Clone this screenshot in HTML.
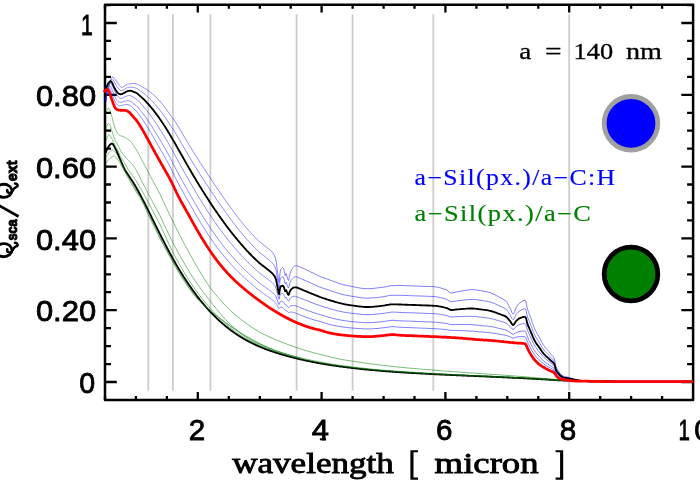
<!DOCTYPE html>
<html><head><meta charset="utf-8"><title>Qsca/Qext</title>
<style>
html,body{margin:0;padding:0;background:#fff;}
body{width:700px;height:500px;overflow:hidden;font-family:"Liberation Serif",serif;}
svg{display:block;will-change:transform;}
text{font-family:"Liberation Serif",serif;}
.tk text{font-family:"Liberation Sans",sans-serif;font-size:29.6px;fill:#000;stroke:#000;stroke-width:0.82px;}
.xl text{font-family:"Liberation Serif",serif;font-size:29.2px;fill:#000;stroke:#000;stroke-width:0.85px;}
.lg text{font-family:"Liberation Serif",serif;font-size:23.5px;stroke:#000;stroke-width:0.3px;}
.lg2{font-family:"Liberation Serif",serif;font-size:22.4px;letter-spacing:1.2px;}
</style></head><body>
<svg width="700" height="500" viewBox="0 0 700 500">
<rect width="700" height="500" fill="#fff"/>
<path d="M148.3,14.2L148.3,390.8M172.9,14.2L172.9,390.8M210.4,14.2L210.4,390.8M296.6,14.2L296.6,390.8M352.6,14.2L352.6,390.8M433.3,14.2L433.3,390.8M569.2,14.2L569.2,390.8" stroke="#cdcdcd" stroke-width="1.8" fill="none"/>
<g fill="none" stroke-linejoin="round" stroke-linecap="butt">
<rect x="105.0" y="4.8" width="588.1" height="395.1" stroke="#000" stroke-width="2.5"/>
<path d="M105.0,399.9L105.0,395.9M105.0,4.8L105.0,8.8M135.9,399.9L135.9,395.9M135.9,4.8L135.9,8.8M166.9,399.9L166.9,395.9M166.9,4.8L166.9,8.8M197.8,399.9L197.8,392.1M197.8,4.8L197.8,12.6M228.8,399.9L228.8,395.9M228.8,4.8L228.8,8.8M259.8,399.9L259.8,395.9M259.8,4.8L259.8,8.8M290.7,399.9L290.7,395.9M290.7,4.8L290.7,8.8M321.6,399.9L321.6,392.1M321.6,4.8L321.6,12.6M352.6,399.9L352.6,395.9M352.6,4.8L352.6,8.8M383.6,399.9L383.6,395.9M383.6,4.8L383.6,8.8M414.5,399.9L414.5,395.9M414.5,4.8L414.5,8.8M445.4,399.9L445.4,392.1M445.4,4.8L445.4,12.6M476.4,399.9L476.4,395.9M476.4,4.8L476.4,8.8M507.3,399.9L507.3,395.9M507.3,4.8L507.3,8.8M538.3,399.9L538.3,395.9M538.3,4.8L538.3,8.8M569.2,399.9L569.2,392.1M569.2,4.8L569.2,12.6M600.2,399.9L600.2,395.9M600.2,4.8L600.2,8.8M631.1,399.9L631.1,395.9M631.1,4.8L631.1,8.8M662.1,399.9L662.1,395.9M662.1,4.8L662.1,8.8M105.0,382.0L116.8,382.0M693.1,382.0L681.3,382.0M105.0,364.1L111.0,364.1M693.1,364.1L687.1,364.1M105.0,346.1L111.0,346.1M693.1,346.1L687.1,346.1M105.0,328.1L111.0,328.1M693.1,328.1L687.1,328.1M105.0,310.2L116.8,310.2M693.1,310.2L681.3,310.2M105.0,292.2L111.0,292.2M693.1,292.2L687.1,292.2M105.0,274.3L111.0,274.3M693.1,274.3L687.1,274.3M105.0,256.4L111.0,256.4M693.1,256.4L687.1,256.4M105.0,238.4L116.8,238.4M693.1,238.4L681.3,238.4M105.0,220.4L111.0,220.4M693.1,220.4L687.1,220.4M105.0,202.5L111.0,202.5M693.1,202.5L687.1,202.5M105.0,184.5L111.0,184.5M693.1,184.5L687.1,184.5M105.0,166.6L116.8,166.6M693.1,166.6L681.3,166.6M105.0,148.7L111.0,148.7M693.1,148.7L687.1,148.7M105.0,130.7L111.0,130.7M693.1,130.7L687.1,130.7M105.0,112.8L111.0,112.8M693.1,112.8L687.1,112.8M105.0,94.8L116.8,94.8M693.1,94.8L681.3,94.8M105.0,76.8L111.0,76.8M693.1,76.8L687.1,76.8M105.0,58.9L111.0,58.9M693.1,58.9L687.1,58.9M105.0,40.9L111.0,40.9M693.1,40.9L687.1,40.9M105.0,23.0L116.8,23.0M693.1,23.0L681.3,23.0M105.0,5.1L111.0,5.1M693.1,5.1L687.1,5.1" stroke="#000" stroke-width="2.3"/>
<path d="M105.6,153.0L106.1,151.6L106.6,150.4L107.1,149.3L107.6,148.3L108.1,147.4L108.6,146.6L109.1,145.9L109.6,145.2L110.1,144.6L110.6,144.2L111.1,143.9L111.6,143.7L112.1,143.7L112.6,143.9L113.1,144.4L113.6,145.2L114.1,146.2L114.6,147.2L115.1,148.2L115.6,149.1L116.1,150.0L116.6,151.0L117.1,152.2L117.6,153.4L118.1,154.5L118.6,155.7L119.1,156.9L119.6,158.1L120.1,159.2L120.6,160.4L121.1,161.5L121.6,162.7L122.1,163.8L122.6,165.0L123.1,166.1L123.6,167.1L124.1,168.2L124.6,169.2L125.1,170.1L125.6,171.0L126.1,171.9L126.6,172.6L127.1,173.4L127.6,174.1L128.1,174.8L128.6,175.5L129.1,176.2L129.6,176.9L130.1,177.7L130.6,178.4L131.1,179.2L131.6,180.0L132.1,180.8L132.6,181.5L133.1,182.3L133.6,183.1L134.1,184.0L134.6,184.8L135.1,185.6L135.6,186.5L136.1,187.3L136.6,188.2L137.1,189.1L137.6,190.0L138.1,190.9L138.6,191.8L139.1,192.7L139.6,193.6L140.1,194.5L140.6,195.5L141.1,196.4L141.6,197.4L142.1,198.3L142.6,199.3L143.1,200.3L143.6,201.3L144.1,202.2L144.6,203.2L145.1,204.2L145.6,205.2L146.1,206.2L146.6,207.2L147.1,208.2L147.6,209.2L148.1,210.2L148.6,211.2L149.1,212.2L149.6,213.2L150.1,214.2L150.6,215.2L151.1,216.2L151.6,217.2L152.1,218.3L152.6,219.3L153.1,220.3L153.6,221.3L154.1,222.3L154.6,223.3L155.1,224.3L155.6,225.3L156.1,226.3L156.6,227.3L157.1,228.3L157.6,229.3L158.1,230.3L158.6,231.3L159.1,232.3L159.6,233.3L160.1,234.3L160.6,235.3L161.1,236.3L161.6,237.3L162.1,238.3L162.6,239.3L163.1,240.2L163.6,241.2L164.1,242.2L164.6,243.1L165.1,244.1L165.6,245.1L166.1,246.0L166.6,247.0L167.1,248.0L167.6,248.9L168.1,249.8L168.6,250.8L169.1,251.7L169.6,252.7L170.1,253.6L170.6,254.5L171.1,255.4L171.6,256.3L172.1,257.2L172.6,258.2L173.1,259.0L173.6,259.9L174.1,260.8L174.6,261.7L175.1,262.6L175.6,263.5L176.1,264.3L176.6,265.2L177.1,266.0L177.6,266.9L178.1,267.7L178.6,268.6L179.1,269.4L179.6,270.3L180.1,271.1L180.6,271.9L181.1,272.7L181.6,273.5L182.1,274.3L182.6,275.1L183.1,275.9L183.6,276.7L184.1,277.5L184.6,278.3L185.1,279.0L185.6,279.8L186.1,280.6L186.6,281.3L187.1,282.1L187.6,282.8L188.1,283.6L188.6,284.3L189.1,285.1L189.6,285.8L190.1,286.5L190.6,287.2L191.1,287.9L191.6,288.6L192.1,289.4L192.6,290.1L193.1,290.7L193.6,291.4L194.1,292.1L194.6,292.8L195.1,293.5L195.6,294.1L196.1,294.8L196.6,295.5L197.1,296.1L197.6,296.8L198.1,297.4L198.6,298.1L199.1,298.7L199.6,299.3L200.1,300.0L200.6,300.6L201.1,301.2L201.6,301.8L202.1,302.4L202.6,303.0L203.1,303.6L203.6,304.2L204.1,304.8L204.6,305.4L205.1,306.0L205.6,306.6L206.1,307.1L206.6,307.7L207.1,308.3L207.6,308.8L208.1,309.4L208.6,309.9L209.1,310.5L209.6,311.0L210.1,311.6L210.6,312.1L211.1,312.6L211.6,313.2L212.1,313.7L212.6,314.2L213.1,314.7L213.6,315.2L214.1,315.7L214.6,316.2L215.1,316.7L215.6,317.2L216.1,317.7L216.6,318.2L217.1,318.6L217.6,319.1L218.1,319.6L218.6,320.1L219.1,320.5L219.6,321.0L220.1,321.4L220.6,321.9L221.1,322.3L221.6,322.8L222.1,323.2L222.6,323.6L223.1,324.1L223.6,324.5L224.1,324.9L224.6,325.3L225.1,325.8L225.6,326.2L226.1,326.6L226.6,327.0L227.1,327.4L227.6,327.8L228.1,328.2L228.6,328.6L229.1,329.0L229.6,329.3L230.1,329.7L230.6,330.1L231.1,330.5L231.6,330.8L232.1,331.2L232.6,331.6L233.1,331.9L233.6,332.3L234.1,332.6L234.6,333.0L235.1,333.3L235.6,333.7L236.1,334.0L236.6,334.3L237.1,334.7L237.6,335.0L238.1,335.3L238.6,335.6L239.1,336.0L239.6,336.3L240.1,336.6L240.6,336.9L241.1,337.2L241.6,337.5L242.1,337.8L242.6,338.1L243.1,338.4L243.6,338.7L244.1,339.0L244.6,339.3L245.1,339.6L245.6,339.8L246.1,340.1L246.6,340.4L247.1,340.7L247.6,340.9L248.1,341.2L248.6,341.5L249.1,341.7L249.6,342.0L250.1,342.2L250.6,342.5L251.1,342.7L251.6,343.0L252.1,343.2L252.6,343.5L253.1,343.7L253.6,344.0L254.1,344.2L254.6,344.4L255.1,344.7L255.6,344.9L256.1,345.1L256.6,345.4L257.1,345.6L257.6,345.8L258.1,346.0L258.6,346.2L259.1,346.5L259.6,346.7L260.1,346.9L260.6,347.1L261.1,347.3L261.6,347.5L262.1,347.7L262.6,347.9L263.1,348.1L263.6,348.3L264.1,348.5L264.6,348.7L265.1,348.9L265.6,349.1L266.1,349.3L266.6,349.5L267.1,349.6L267.6,349.8L268.1,350.0L268.6,350.2L269.1,350.4L269.6,350.5L270.1,350.7L270.6,350.9L271.1,351.1L271.6,351.2L272.1,351.4L272.6,351.6L273.1,351.7L273.6,351.9L274.1,352.1L274.6,352.2L275.1,352.4L275.6,352.6L276.1,352.7L276.6,352.9L277.1,353.0L277.6,353.2L278.1,353.3L278.6,353.5L279.1,353.7L279.6,353.8L280.1,354.0L280.6,354.1L281.1,354.3L281.6,354.4L282.1,354.6L282.6,354.7L283.1,354.8L283.6,355.0L284.1,355.1L284.6,355.3L285.1,355.4L285.6,355.6L286.1,355.7L286.6,355.8L287.1,356.0L287.6,356.1L288.1,356.3L288.6,356.4L289.1,356.5L289.6,356.7L290.1,356.8L290.6,356.9L291.1,357.1L291.6,357.2L292.1,357.3L292.6,357.4L293.1,357.6L293.6,357.7L294.1,357.8L294.6,358.0L295.1,358.1L295.6,358.2L296.1,358.3L296.6,358.4L297.1,358.6L297.6,358.7L298.1,358.8L298.6,358.9L299.1,359.0L299.6,359.2L300.0,359.3L301.0,359.5L302.0,359.7L303.0,359.9L304.0,360.2L305.0,360.4L306.0,360.6L307.0,360.8L308.0,361.0L309.0,361.2L310.0,361.4L311.0,361.6L312.0,361.8L313.0,362.0L314.0,362.2L315.0,362.4L316.0,362.6L317.0,362.8L318.0,363.0L319.0,363.2L320.0,363.3L321.0,363.5L322.0,363.7L323.0,363.9L324.0,364.0L325.0,364.2L326.0,364.4L327.0,364.5L328.0,364.7L329.0,364.8L330.0,365.0L331.0,365.1L332.0,365.3L333.0,365.5L334.0,365.6L335.0,365.7L336.0,365.9L337.0,366.0L338.0,366.2L339.0,366.3L340.0,366.5L341.0,366.6L342.0,366.7L343.0,366.9L344.0,367.0L345.0,367.1L346.0,367.2L347.0,367.4L348.0,367.5L349.0,367.6L350.0,367.7L351.0,367.9L352.0,368.0L353.0,368.1L354.0,368.2L355.0,368.3L356.0,368.4L357.0,368.5L358.0,368.7L359.0,368.8L360.0,368.9L361.0,369.0L362.0,369.1L363.0,369.2L364.0,369.3L365.0,369.4L366.0,369.5L367.0,369.6L368.0,369.7L369.0,369.8L370.0,369.9L371.0,370.0L372.0,370.1L373.0,370.1L374.0,370.2L375.0,370.3L376.0,370.4L377.0,370.5L378.0,370.6L379.0,370.7L380.0,370.8L381.0,370.8L382.0,370.9L383.0,371.0L384.0,371.1L385.0,371.2L386.0,371.2L387.0,371.3L388.0,371.4L389.0,371.5L390.0,371.5L391.0,371.6L392.0,371.7L393.0,371.7L394.0,371.8L395.0,371.9L396.0,372.0L397.0,372.0L398.0,372.1L399.0,372.2L400.0,372.2L401.0,372.3L402.0,372.4L403.0,372.4L404.0,372.5L405.0,372.5L406.0,372.6L407.0,372.7L408.0,372.7L409.0,372.8L410.0,372.9L411.0,372.9L412.0,373.0L413.0,373.0L414.0,373.1L415.0,373.1L416.0,373.2L417.0,373.3L418.0,373.3L419.0,373.4L420.0,373.4L421.0,373.5L422.0,373.5L423.0,373.6L424.0,373.6L425.0,373.7L426.0,373.8L427.0,373.8L428.0,373.9L429.0,373.9L430.0,374.0L431.0,374.0L432.0,374.1L433.0,374.1L434.0,374.2L435.0,374.2L436.0,374.3L437.0,374.3L438.0,374.4L439.0,374.4L440.0,374.5L441.0,374.5L442.0,374.5L443.0,374.6L444.0,374.6L445.0,374.7L446.0,374.7L447.0,374.8L448.0,374.8L449.0,374.9L450.0,374.9L451.0,375.0L452.0,375.0L453.0,375.1L454.0,375.1L455.0,375.1L456.0,375.2L457.0,375.2L458.0,375.3L459.0,375.3L460.0,375.4L461.0,375.4L462.0,375.5L463.0,375.5L464.0,375.5L465.0,375.6L466.0,375.6L467.0,375.7L468.0,375.7L469.0,375.8L470.0,375.8L471.0,375.8L472.0,375.9L473.0,375.9L474.0,376.0L475.0,376.0L476.0,376.1L477.0,376.1L478.0,376.1L479.0,376.2L480.0,376.2L481.0,376.3L482.0,376.3L483.0,376.4L484.0,376.4L485.0,376.4L486.0,376.5L487.0,376.5L488.0,376.6L489.0,376.6L490.0,376.7L491.0,376.7L492.0,376.7L493.0,376.8L494.0,376.8L495.0,376.9L496.0,376.9L497.0,377.0L498.0,377.0L499.0,377.1L500.0,377.1L501.0,377.1L502.0,377.2L503.0,377.2L504.0,377.3L505.0,377.3L506.0,377.4L507.0,377.4L508.0,377.5L509.0,377.5L510.0,377.6L511.0,377.6L512.0,377.7L513.0,377.7L514.0,377.8L515.0,377.8L516.0,377.8L517.0,377.9L518.0,377.9L519.0,378.0L520.0,378.0L521.0,378.1L522.0,378.1L523.0,378.2L524.0,378.2L525.0,378.3L526.0,378.4L527.0,378.4L528.0,378.5L529.0,378.5L530.0,378.6L531.0,378.6L532.0,378.7L533.0,378.7L534.0,378.8L535.0,378.8L536.0,378.9L537.0,379.0L538.0,379.0L539.0,379.1L540.0,379.1L541.0,379.2L542.0,379.2L543.0,379.3L544.0,379.4L545.0,379.4L546.0,379.5L547.0,379.5L548.0,379.6L549.0,379.7L550.0,379.7L551.0,379.8L552.0,379.9L553.0,379.9L554.0,380.0L555.0,380.1L556.0,380.1L557.0,380.2L558.0,380.2L559.0,380.3L560.0,380.3L561.0,380.4L562.0,380.4L563.0,380.5L564.0,380.5L565.0,380.5L566.0,380.6L567.0,380.6L568.0,380.6L569.0,380.7L570.0,380.7L571.0,380.7L572.0,380.8L573.0,380.8L574.0,380.8L575.0,380.8L576.0,380.9L577.0,380.9L578.0,380.9L579.0,381.0L580.0,381.0L581.0,381.0L582.0,381.0L583.0,381.0L584.0,381.1L585.0,381.1L586.0,381.1L587.0,381.1L588.0,381.2L589.0,381.2L590.0,381.2L591.0,381.2L592.0,381.2L593.0,381.3L594.0,381.3L595.0,381.3L596.0,381.3L597.0,381.3L598.0,381.3L599.0,381.4L600.0,381.4L601.0,381.4L602.0,381.4L603.0,381.4L604.0,381.4L605.0,381.4L606.0,381.5L607.0,381.5L608.0,381.5L609.0,381.5L610.0,381.5L611.0,381.5L612.0,381.5L613.0,381.5L614.0,381.5L615.0,381.6L616.0,381.6L617.0,381.6L618.0,381.6L619.0,381.6L620.0,381.6L621.0,381.6L622.0,381.6L623.0,381.6L624.0,381.6L625.0,381.6L626.0,381.6L627.0,381.6L628.0,381.7L629.0,381.7L630.0,381.7L631.0,381.7L632.0,381.7L633.0,381.7L634.0,381.7L635.0,381.7L636.0,381.7L637.0,381.7L638.0,381.7L639.0,381.7L640.0,381.7L641.0,381.7L642.0,381.7L643.0,381.7L644.0,381.7L645.0,381.7L646.0,381.7L647.0,381.7L648.0,381.7L649.0,381.7L650.0,381.7L651.0,381.7L652.0,381.7L653.0,381.7L654.0,381.7L655.0,381.7L656.0,381.7L657.0,381.7L658.0,381.7L659.0,381.7L660.0,381.7L661.0,381.7L662.0,381.7L663.0,381.7L664.0,381.7L665.0,381.7L666.0,381.7L667.0,381.7L668.0,381.7L669.0,381.7L670.0,381.7L671.0,381.7L672.0,381.7L673.0,381.7L674.0,381.7L675.0,381.7L676.0,381.7L677.0,381.7L678.0,381.7L679.0,381.7L680.0,381.7L681.0,381.7L682.0,381.7L683.0,381.7L684.0,381.7L685.0,381.7L686.0,381.7L687.0,381.6L688.0,381.6L689.0,381.6L690.0,381.6L691.0,381.6L692.0,381.6L693.0,381.6" stroke="#000" stroke-width="1.85"/>
<g stroke="#008000" stroke-width="0.65" opacity="0.8">
<path d="M106.2,112.0L106.6,110.8L107.0,109.9L107.4,109.1L107.8,108.5L108.2,108.2L108.6,108.2L109.0,108.5L109.4,109.1L109.8,110.0L110.2,111.1L110.6,112.3L111.0,113.5L111.4,114.9L111.8,116.4L112.2,117.9L112.6,119.5L113.0,121.1L113.4,122.6L113.8,124.1L114.2,125.6L114.6,126.9L115.0,128.2L115.4,129.3L115.8,130.3L116.2,131.2L116.6,131.9L117.0,132.5L117.4,133.0L117.8,133.5L118.2,133.9L118.6,134.4L119.0,134.8L119.4,135.1L119.8,135.4L120.2,135.6L120.6,135.8L121.0,135.9L121.4,136.1L121.8,136.2L122.2,136.3L122.6,136.4L123.0,136.5L123.4,136.7L123.8,136.8L124.2,137.0L124.6,137.2L125.0,137.4L125.4,137.6L125.8,137.9L126.2,138.1L126.6,138.4L127.0,138.6L127.4,138.9L127.8,139.2L128.2,139.5L128.6,139.7L129.0,140.0L129.4,140.3L129.8,140.7L130.2,141.0L130.6,141.4L131.0,141.9L131.4,142.4L131.8,142.9L132.2,143.4L132.6,144.0L133.0,144.6L133.4,145.2L133.8,145.8L134.2,146.4L134.6,147.0L135.0,147.7L135.4,148.3L135.8,148.9L136.2,149.5L136.6,150.2L137.0,150.9L137.4,151.6L137.8,152.3L138.2,153.0L138.6,153.8L139.0,154.5L139.4,155.2L139.8,156.0L140.2,156.7L140.6,157.5L141.0,158.2L141.4,159.0L141.8,159.8L142.2,160.5L142.6,161.3L143.0,162.0L143.4,162.8L143.8,163.6L144.2,164.3L144.6,165.1L145.0,165.8L145.4,166.6L145.8,167.4L146.2,168.1L146.6,168.9L147.0,169.6L147.4,170.4L147.8,171.2L148.2,171.9L148.6,172.7L149.0,173.5L149.4,174.2L149.8,175.0L150.2,175.7L150.6,176.5L151.0,177.3L151.4,178.0L151.8,178.8L152.2,179.5L152.6,180.3L153.0,181.1L154.0,182.9L155.0,184.8L156.0,186.7L157.0,188.5L158.0,190.4L159.0,192.3L160.0,194.1L161.0,196.3L162.0,198.5L163.0,200.6L164.0,202.8L165.0,204.9L166.0,207.0L167.0,209.2L168.0,211.3L169.0,213.3L170.0,215.4L171.0,217.4L172.0,219.5L173.0,221.5L174.0,223.6L175.0,225.6L176.0,227.7L177.0,229.7L178.0,231.7L179.0,233.7L180.0,235.7L181.0,237.6L182.0,239.5L183.0,241.4L184.0,243.3L185.0,245.2L186.0,247.1L187.0,248.9L188.0,250.8L189.0,252.6L190.0,254.4L191.0,256.2L192.0,258.0L193.0,259.8L194.0,261.6L195.0,263.3L196.0,265.1L197.0,266.8L198.0,268.5L199.0,270.2L200.0,271.8L201.0,273.5L202.0,275.1L203.0,276.7L204.0,278.3L205.0,279.9L206.0,281.4L207.0,283.0L208.0,284.5L209.0,286.0L210.0,287.5L211.0,288.8L212.0,290.0L213.0,291.3L214.0,292.5L215.0,293.7L216.0,294.9L217.0,296.1L218.0,297.3L219.0,298.5L220.0,299.6L221.0,300.7L222.0,301.8L223.0,302.9L224.0,304.0L225.0,305.1L226.0,306.1L227.0,307.1L228.0,308.1L229.0,309.1L230.0,310.1L231.0,311.1L232.0,312.0L233.0,312.8L234.0,313.7L235.0,314.6L236.0,315.4L237.0,316.3L238.0,317.1L239.0,317.9L240.0,318.7L241.0,319.5L242.0,320.2L243.0,321.0L244.0,321.8L245.0,322.5L246.0,323.2L247.0,323.9L248.0,324.6L249.0,325.3L250.0,326.0L251.0,326.7L252.0,327.4L253.0,328.0L254.0,328.7L255.0,329.3L256.0,329.9L257.0,330.5L258.0,331.1L259.0,331.7L260.0,332.3L261.0,332.9L262.0,333.4L263.0,333.9L264.0,334.4L265.0,334.8L266.0,335.3L267.0,335.8L268.0,336.3L269.0,336.7L270.0,337.2L271.0,337.6L272.0,338.1L273.0,338.5L274.0,338.9L275.0,339.4L276.0,339.8L277.0,340.2L278.0,340.6L279.0,341.0L280.0,341.4L281.0,341.8L282.0,342.2L283.0,342.6L284.0,343.0L285.0,343.4L286.0,343.8L287.0,344.2L288.0,344.5L289.0,344.9L290.0,345.3L291.0,345.6L292.0,346.0L293.0,346.3L294.0,346.7L295.0,347.1L296.0,347.4L297.0,347.7L298.0,348.1L299.0,348.4L300.0,348.8L304.0,350.0L308.0,351.2L312.0,352.3L316.0,353.4L320.0,354.4L324.0,355.4L328.0,356.4L332.0,357.4L336.0,358.3L340.0,359.2L344.0,359.8L348.0,360.5L352.0,361.1L356.0,361.7L360.0,362.3L364.0,362.9L368.0,363.5L372.0,364.0L376.0,364.5L380.0,365.0L384.0,365.5L388.0,365.9L392.0,366.4L396.0,366.8L400.0,367.2L404.0,367.6L408.0,368.0L412.0,368.3L416.0,368.7L420.0,369.0L424.0,369.4L428.0,369.7L432.0,370.0L436.0,370.3L440.0,370.7L444.0,371.0L448.0,371.3L452.0,371.6L456.0,371.8L460.0,372.1L464.0,372.4L468.0,372.7L472.0,373.0L476.0,373.2L480.0,373.5L484.0,373.8L488.0,374.1L492.0,374.3L496.0,374.6L500.0,374.9L504.0,375.2L508.0,375.5L512.0,375.8L516.0,376.1L520.0,376.4L524.0,376.7L528.0,377.1L532.0,377.4L536.0,377.7L540.0,378.1L544.0,378.4L548.0,378.8L552.0,379.1L556.0,379.5L560.0,379.8L564.0,380.0L568.0,380.2L572.0,380.3L576.0,380.4L580.0,380.5L584.0,380.7L588.0,380.8L592.0,380.9L596.0,380.9L600.0,381.0L604.0,381.1L608.0,381.2L612.0,381.2L616.0,381.3L620.0,381.3L624.0,381.4L628.0,381.4L632.0,381.4L636.0,381.5"/><path d="M106.2,128.8L106.6,127.1L107.0,125.8L107.4,124.8L107.8,123.9L108.2,123.5L108.6,123.4L109.0,123.7L109.4,124.1L109.8,124.8L110.2,125.7L110.6,126.8L111.0,128.0L111.4,129.3L111.8,130.5L112.2,131.8L112.6,133.0L113.0,134.2L113.4,135.4L113.8,136.6L114.2,137.8L114.6,138.8L115.0,139.8L115.4,140.6L115.8,141.4L116.2,142.1L116.6,142.7L117.0,143.4L117.4,144.1L117.8,144.9L118.2,145.7L118.6,146.5L119.0,147.4L119.4,148.2L119.8,149.0L120.2,149.8L120.6,150.5L121.0,151.2L121.4,151.8L121.8,152.4L122.2,153.0L122.6,153.5L123.0,154.1L123.4,154.6L123.8,155.1L124.2,155.6L124.6,156.1L125.0,156.5L125.4,157.0L125.8,157.5L126.2,158.0L126.6,158.4L127.0,158.9L127.4,159.3L127.8,159.8L128.2,160.2L128.6,160.6L129.0,161.0L129.4,161.3L129.8,161.6L130.2,162.0L130.6,162.4L131.0,162.8L131.4,163.3L131.8,163.8L132.2,164.3L132.6,164.8L133.0,165.4L133.4,165.9L133.8,166.5L134.2,167.1L134.6,167.7L135.0,168.2L135.4,168.8L135.8,169.5L136.2,170.1L136.6,170.8L137.0,171.6L137.4,172.3L137.8,173.1L138.2,173.9L138.6,174.7L139.0,175.5L139.4,176.4L139.8,177.2L140.2,178.0L140.6,178.8L141.0,179.6L141.4,180.3L141.8,181.1L142.2,181.9L142.6,182.7L143.0,183.5L143.4,184.3L143.8,185.0L144.2,185.8L144.6,186.6L145.0,187.4L145.4,188.2L145.8,188.9L146.2,189.7L146.6,190.5L147.0,191.2L147.4,192.0L147.8,192.8L148.2,193.5L148.6,194.3L149.0,195.1L149.4,195.8L149.8,196.6L150.2,197.3L150.6,198.1L151.0,198.8L151.4,199.6L151.8,200.4L152.2,201.1L152.6,201.9L153.0,202.6L154.0,204.5L155.0,206.4L156.0,208.2L157.0,210.1L158.0,211.9L159.0,213.8L160.0,215.6L161.0,217.8L162.0,220.0L163.0,222.1L164.0,224.3L165.0,226.4L166.0,228.5L167.0,230.6L168.0,232.7L169.0,234.8L170.0,236.8L171.0,238.9L172.0,240.9L173.0,242.9L174.0,244.8L175.0,246.7L176.0,248.6L177.0,250.4L178.0,252.3L179.0,254.1L180.0,255.9L181.0,257.6L182.0,259.4L183.0,261.1L184.0,262.8L185.0,264.6L186.0,266.3L187.0,267.9L188.0,269.6L189.0,271.2L190.0,272.9L191.0,274.4L192.0,276.0L193.0,277.5L194.0,279.0L195.0,280.5L196.0,282.0L197.0,283.4L198.0,284.9L199.0,286.3L200.0,287.7L201.0,289.1L202.0,290.4L203.0,291.8L204.0,293.1L205.0,294.4L206.0,295.7L207.0,297.0L208.0,298.2L209.0,299.5L210.0,300.7L211.0,302.0L212.0,303.3L213.0,304.6L214.0,305.9L215.0,307.1L216.0,308.4L217.0,309.6L218.0,310.8L219.0,312.0L220.0,313.2L221.0,314.4L222.0,315.5L223.0,316.6L224.0,317.7L225.0,318.9L226.0,319.9L227.0,321.0L228.0,322.1L229.0,323.1L230.0,324.1L231.0,325.1L232.0,326.0L233.0,326.9L234.0,327.8L235.0,328.6L236.0,329.5L237.0,330.4L238.0,331.2L239.0,332.0L240.0,332.8L241.0,333.6L242.0,334.4L243.0,335.2L244.0,335.9L245.0,336.7L246.0,337.3L247.0,337.9L248.0,338.5L249.0,339.0L250.0,339.6L251.0,340.1L252.0,340.7L253.0,341.2L254.0,341.7L255.0,342.2L256.0,342.7L257.0,343.2L258.0,343.7L259.0,344.2L260.0,344.6L261.0,345.1L262.0,345.5L263.0,345.9L264.0,346.3L265.0,346.7L266.0,347.1L267.0,347.5L268.0,347.9L269.0,348.3L270.0,348.6L271.0,349.0L272.0,349.4L273.0,349.7L274.0,350.1L275.0,350.4L276.0,350.7L277.0,351.1L278.0,351.4L279.0,351.7L280.0,352.0L281.0,352.3L282.0,352.7L283.0,353.0L284.0,353.3L285.0,353.6L286.0,353.9L287.0,354.2L288.0,354.4L289.0,354.7L290.0,355.0L291.0,355.3L292.0,355.6L293.0,355.8L294.0,356.1L295.0,356.4L296.0,356.6L297.0,356.9L298.0,357.2L299.0,357.4L300.0,357.7L304.0,358.6L308.0,359.5L312.0,360.4L316.0,361.2L320.0,361.9L324.0,362.7L328.0,363.4L332.0,364.0L336.0,364.7L340.0,365.3L344.0,365.8L348.0,366.3L352.0,366.9L356.0,367.3L360.0,367.8L364.0,368.2L368.0,368.7L372.0,369.1L376.0,369.5L380.0,369.8L384.0,370.2L388.0,370.5L392.0,370.8L396.0,371.1L400.0,371.4L404.0,371.7L408.0,372.0L412.0,372.2L416.0,372.5L420.0,372.7L424.0,372.9L428.0,373.2L432.0,373.4L436.0,373.6L440.0,373.8L444.0,374.0L448.0,374.2L452.0,374.4L456.0,374.6L460.0,374.8L464.0,375.0L468.0,375.2L472.0,375.4L476.0,375.6L480.0,375.7L484.0,375.9L488.0,376.1L492.0,376.3L496.0,376.5L500.0,376.7L504.0,376.9L508.0,377.1L512.0,377.3L516.0,377.6L520.0,377.8L524.0,378.0L528.0,378.2L532.0,378.5L536.0,378.7L540.0,379.0L544.0,379.3L548.0,379.5L552.0,379.8L556.0,380.1L560.0,380.3L564.0,380.5L568.0,380.6L572.0,380.8L576.0,380.9L580.0,381.0L584.0,381.1L588.0,381.2L592.0,381.2L596.0,381.3L600.0,381.4L604.0,381.4L608.0,381.5L612.0,381.5L616.0,381.6L620.0,381.6L624.0,381.6L628.0,381.7L632.0,381.7L636.0,381.7"/><path d="M106.2,140.8L106.6,139.2L107.0,137.8L107.4,136.7L107.8,135.9L108.2,135.2L108.6,134.8L109.0,134.7L109.4,134.9L109.8,135.3L110.2,135.7L110.6,136.3L111.0,137.0L111.4,137.8L111.8,138.6L112.2,139.4L112.6,140.2L113.0,141.0L113.4,141.8L113.8,142.6L114.2,143.4L114.6,144.2L115.0,144.9L115.4,145.7L115.8,146.5L116.2,147.3L116.6,148.0L117.0,148.8L117.4,149.6L117.8,150.4L118.2,151.3L118.6,152.2L119.0,153.1L119.4,154.0L119.8,154.9L120.2,155.7L120.6,156.5L121.0,157.2L121.4,157.9L121.8,158.5L122.2,159.2L122.6,159.8L123.0,160.5L123.4,161.2L123.8,161.8L124.2,162.6L124.6,163.3L125.0,164.0L125.4,164.7L125.8,165.4L126.2,166.1L126.6,166.8L127.0,167.5L127.4,168.1L127.8,168.8L128.2,169.4L128.6,170.0L129.0,170.6L129.4,171.2L129.8,171.7L130.2,172.3L130.6,172.9L131.0,173.5L131.4,174.0L131.8,174.6L132.2,175.1L132.6,175.7L133.0,176.2L133.4,176.8L133.8,177.4L134.2,177.9L134.6,178.5L135.0,179.1L135.4,179.7L135.8,180.3L136.2,181.0L136.6,181.6L137.0,182.3L137.4,182.9L137.8,183.6L138.2,184.3L138.6,185.0L139.0,185.7L139.4,186.4L139.8,187.0L140.2,187.7L140.6,188.4L141.0,189.1L141.4,189.8L141.8,190.6L142.2,191.3L142.6,192.0L143.0,192.7L143.4,193.4L143.8,194.1L144.2,194.8L144.6,195.5L145.0,196.2L145.4,197.0L145.8,197.7L146.2,198.4L146.6,199.2L147.0,199.9L147.4,200.6L147.8,201.4L148.2,202.1L148.6,202.9L149.0,203.6L149.4,204.4L149.8,205.1L150.2,205.9L150.6,206.6L151.0,207.4L151.4,208.2L151.8,208.9L152.2,209.7L152.6,210.5L153.0,211.3L154.0,213.2L155.0,215.1L156.0,217.0L157.0,218.9L158.0,220.8L159.0,222.7L160.0,224.6L161.0,226.8L162.0,229.0L163.0,231.2L164.0,233.4L165.0,235.6L166.0,237.7L167.0,239.9L168.0,242.0L169.0,244.1L170.0,246.2L171.0,248.3L172.0,250.3L173.0,252.4L174.0,254.3L175.0,256.2L176.0,258.1L177.0,259.9L178.0,261.8L179.0,263.6L180.0,265.4L181.0,267.1L182.0,268.9L183.0,270.6L184.0,272.3L185.0,274.0L186.0,275.6L187.0,277.2L188.0,278.8L189.0,280.3L190.0,281.9L191.0,283.3L192.0,284.8L193.0,286.3L194.0,287.7L195.0,289.1L196.0,290.5L197.0,291.9L198.0,293.2L199.0,294.6L200.0,295.9L201.0,297.2L202.0,298.5L203.0,299.7L204.0,301.0L205.0,302.2L206.0,303.4L207.0,304.6L208.0,305.8L209.0,306.9L210.0,308.1L211.0,309.2L212.0,310.3L213.0,311.4L214.0,312.5L215.0,313.6L216.0,314.6L217.0,315.6L218.0,316.7L219.0,317.7L220.0,318.6L221.0,319.6L222.0,320.6L223.0,321.5L224.0,322.4L225.0,323.3L226.0,324.2L227.0,325.1L228.0,326.0L229.0,326.8L230.0,327.6L231.0,328.4L232.0,329.2L233.0,329.9L234.0,330.7L235.0,331.4L236.0,332.1L237.0,332.8L238.0,333.5L239.0,334.2L240.0,334.9L241.0,335.5L242.0,336.1L243.0,336.8L244.0,337.4L245.0,338.0L246.0,338.6L247.0,339.1L248.0,339.7L249.0,340.3L250.0,340.8L251.0,341.3L252.0,341.8L253.0,342.3L254.0,342.8L255.0,343.3L256.0,343.8L257.0,344.3L258.0,344.7L259.0,345.2L260.0,345.6L261.0,346.1L262.0,346.5L263.0,346.9L264.0,347.3L265.0,347.7L266.0,348.1L267.0,348.5L268.0,348.8L269.0,349.2L270.0,349.6L271.0,349.9L272.0,350.3L273.0,350.6L274.0,351.0L275.0,351.3L276.0,351.6L277.0,352.0L278.0,352.3L279.0,352.6L280.0,352.9L281.0,353.2L282.0,353.5L283.0,353.8L284.0,354.1L285.0,354.4L286.0,354.7L287.0,355.0L288.0,355.3L289.0,355.6L290.0,355.9L291.0,356.1L292.0,356.4L293.0,356.7L294.0,356.9L295.0,357.2L296.0,357.5L297.0,357.7L298.0,358.0L299.0,358.2L300.0,358.5L304.0,359.4L308.0,360.3L312.0,361.1L316.0,361.9L320.0,362.7L324.0,363.4L328.0,364.1L332.0,364.7L336.0,365.4L340.0,366.0L344.0,366.5L348.0,367.0L352.0,367.5L356.0,368.0L360.0,368.4L364.0,368.9L368.0,369.3L372.0,369.7L376.0,370.0L380.0,370.4L384.0,370.7L388.0,371.0L392.0,371.4L396.0,371.6L400.0,371.9L404.0,372.2L408.0,372.5L412.0,372.7L416.0,373.0L420.0,373.2L424.0,373.5L428.0,373.7L432.0,374.0L436.0,374.2L440.0,374.4L444.0,374.6L448.0,374.8L452.0,375.0L456.0,375.2L460.0,375.4L464.0,375.5L468.0,375.7L472.0,375.9L476.0,376.1L480.0,376.2L484.0,376.4L488.0,376.6L492.0,376.7L496.0,376.9L500.0,377.1L504.0,377.3L508.0,377.5L512.0,377.7L516.0,377.8L520.0,378.0L524.0,378.2L528.0,378.5L532.0,378.7L536.0,378.9L540.0,379.1L544.0,379.4L548.0,379.6L552.0,379.9L556.0,380.1L560.0,380.3L564.0,380.5L568.0,380.6L572.0,380.8L576.0,380.9L580.0,381.0L584.0,381.1L588.0,381.2L592.0,381.2L596.0,381.3L600.0,381.4L604.0,381.4L608.0,381.5L612.0,381.5L616.0,381.6L620.0,381.6L624.0,381.6L628.0,381.7L632.0,381.7L636.0,381.7"/><path d="M105.6,157.8L106.1,156.9L106.6,156.1L107.1,155.3L107.6,154.6L108.1,153.9L108.6,153.2L109.1,152.5L109.6,152.0L110.1,151.4L110.6,150.9L111.1,150.5L111.6,150.1L112.1,150.0L112.6,150.0L113.1,150.1L113.6,150.4L114.1,150.9L114.6,151.5L115.1,152.1L115.6,152.8L116.1,153.6L116.6,154.3L117.1,155.1L117.6,155.8L118.1,156.7L118.6,157.5L119.1,158.3L119.6,159.2L120.1,160.2L120.6,161.2L121.1,162.3L121.6,163.4L122.1,164.5L122.6,165.6L123.1,166.6L123.6,167.7L124.1,168.7L124.6,169.7L125.1,170.7L125.6,171.6L126.1,172.6L126.6,173.6L127.1,174.5L127.6,175.5L128.1,176.4L128.6,177.3L129.1,178.2L129.6,179.0L130.1,179.9L130.6,180.8L131.1,181.6L131.6,182.5L132.1,183.4L132.6,184.2L133.1,185.1L133.6,185.9L134.1,186.8L134.6,187.6L135.1,188.5L135.6,189.3L136.1,190.2L136.6,191.0L137.1,191.8L137.6,192.6L138.1,193.4L138.6,194.2L139.1,195.0L139.6,195.8L140.1,196.6L140.6,197.4L141.1,198.3L141.6,199.2L142.1,200.1L142.6,201.1L143.1,202.1L143.6,203.1L144.1,204.2L144.6,205.2L145.1,206.3L145.6,207.4L146.1,208.5L146.6,209.6L147.1,210.7L147.6,211.7L148.1,212.8L148.6,213.8L149.1,214.9L149.6,215.9L150.1,217.0L150.6,218.0L151.1,219.1L151.6,220.1L152.1,221.2L152.6,222.2L153.1,223.3L153.6,224.3L154.1,225.4L154.6,226.4L155.1,227.5L155.6,228.5L156.1,229.6L156.6,230.6L157.1,231.6L157.6,232.7L158.1,233.7L158.6,234.7L159.1,235.8L159.6,236.8L160.1,237.8L160.6,238.8L161.1,239.8L161.6,240.7L162.1,241.7L162.6,242.7L163.1,243.6L163.6,244.6L164.1,245.5L164.6,246.5L165.1,247.4L165.6,248.3L166.1,249.3L166.6,250.2L167.1,251.1L167.6,252.0L168.1,252.9L168.6,253.9L169.1,254.8L169.6,255.7L170.1,256.6L170.6,257.5L171.1,258.4L171.6,259.3L172.1,260.2L172.6,261.1L173.1,262.0L173.6,262.9L174.1,263.7L174.6,264.6L175.1,265.5L175.6,266.4L176.1,267.2L176.6,268.1L177.1,269.0L177.6,269.8L178.1,270.6L178.6,271.5L179.1,272.3L179.6,273.1L180.1,274.0L180.6,274.8L181.1,275.6L181.6,276.4L182.1,277.2L182.6,278.0L183.1,278.7L183.6,279.5L184.1,280.3L184.6,281.1L185.1,281.8L185.6,282.6L186.1,283.4L186.6,284.1L187.1,284.8L187.6,285.6L188.1,286.3L188.6,287.0L189.1,287.8L189.6,288.5L190.1,289.2L190.6,289.9L191.1,290.6L191.6,291.2L192.1,291.9L192.6,292.6L193.1,293.2L193.6,293.9L194.1,294.5L194.6,295.1L195.1,295.8L195.6,296.4L196.1,297.0L196.6,297.5L197.1,298.1L197.6,298.7L198.1,299.2L198.6,299.8L199.1,300.3L199.6,300.8L200.1,301.3L200.6,301.8L201.1,302.3L201.6,302.8L202.1,303.2L202.6,303.7L203.1,304.2L203.6,304.7L204.1,305.1L204.6,305.6L205.1,306.0L205.6,306.5L206.1,306.9L206.6,307.4L207.1,307.8L207.6,308.3L208.1,308.7L208.6,309.1L209.1,309.6L209.6,310.0L210.1,310.4L210.6,310.8L211.1,311.2L211.6,311.7L212.1,312.1L212.6,312.5L213.1,312.9L213.6,313.3L214.1,313.7L214.6,314.1L215.1,314.5L215.6,314.9L216.1,315.3L216.6,315.7L217.1,316.1L217.6,316.5L218.1,316.9L218.6,317.2L219.1,317.6L219.6,318.0L220.1,318.4L220.6,318.8L221.1,319.2L221.6,319.6L222.1,320.0L222.6,320.3L223.1,320.7L223.6,321.1L224.1,321.5L224.6,321.9L225.1,322.2L225.6,322.6L226.1,323.0L226.6,323.3L227.1,323.7L227.6,324.1L228.1,324.4L228.6,324.8L229.1,325.2L229.6,325.5L230.1,325.9L230.6,326.2L231.1,326.6L231.6,326.9L232.1,327.3L232.6,327.6L233.1,327.9L233.6,328.3L234.1,328.6L234.6,329.0L235.1,329.3L235.6,329.6L236.1,330.0L236.6,330.3L237.1,330.6L237.6,330.9L238.1,331.3L238.6,331.6L239.1,331.9L239.6,332.2L240.1,332.5L240.6,332.8L241.1,333.2L241.6,333.5L242.1,333.8L242.6,334.1L243.1,334.4L243.6,334.7L244.1,335.0L244.6,335.3L245.1,335.6L245.6,335.9L246.1,336.2L246.6,336.5L247.1,336.8L247.6,337.0L248.1,337.3L248.6,337.6L249.1,337.9L249.6,338.2L250.1,338.5L250.6,338.7L251.1,339.0L251.6,339.3L252.1,339.6L252.6,339.8L253.1,340.1L253.6,340.4L254.1,340.7L254.6,340.9L255.1,341.2L255.6,341.4L256.1,341.7L256.6,342.0L257.1,342.2L257.6,342.5L258.1,342.7L258.6,343.0L259.1,343.2L259.6,343.5L260.1,343.7L260.6,344.0L261.1,344.2L261.6,344.5L262.1,344.7L262.6,345.0L263.1,345.2L263.6,345.4L264.1,345.7L264.6,345.9L265.1,346.1L265.6,346.4L266.1,346.6L266.6,346.8L267.1,347.0L267.6,347.3L268.1,347.5L268.6,347.7L269.1,347.9L269.6,348.1L270.1,348.3L270.6,348.6L271.1,348.8L271.6,349.0L272.1,349.2L272.6,349.4L273.1,349.6L273.6,349.8L274.1,350.0L274.6,350.2L275.1,350.4L275.6,350.6L276.1,350.8L276.6,350.9L277.1,351.1L277.6,351.3L278.1,351.5L278.6,351.7L279.1,351.9L279.6,352.0L280.1,352.2L280.6,352.4L281.1,352.6L281.6,352.7L282.1,352.9L282.6,353.1L283.1,353.3L283.6,353.4L284.1,353.6L284.6,353.8L285.1,353.9L285.6,354.1L286.1,354.2L286.6,354.4L287.1,354.5L287.6,354.7L288.1,354.9L288.6,355.0L289.1,355.2L289.6,355.3L290.1,355.5L290.6,355.6L291.1,355.7L291.6,355.9L292.1,356.0L292.6,356.2L293.1,356.3L293.6,356.5L294.1,356.6L294.6,356.7L295.1,356.9L295.6,357.0L296.1,357.1L296.6,357.2L297.1,357.4L297.6,357.5L298.1,357.6L298.6,357.8L299.1,357.9L299.6,358.0L300.0,358.1"/><path d="M105.6,163.8L106.1,163.0L106.6,162.3L107.1,161.6L107.6,161.0L108.1,160.4L108.6,159.8L109.1,159.3L109.6,158.8L110.1,158.3L110.6,157.9L111.1,157.4L111.6,157.0L112.1,156.6L112.6,156.3L113.1,156.1L113.6,156.0L114.1,156.0L114.6,156.2L115.1,156.5L115.6,156.9L116.1,157.5L116.6,158.1L117.1,158.8L117.6,159.5L118.1,160.1L118.6,160.9L119.1,161.7L119.6,162.5L120.1,163.3L120.6,164.1L121.1,164.9L121.6,165.8L122.1,166.7L122.6,167.6L123.1,168.6L123.6,169.5L124.1,170.4L124.6,171.4L125.1,172.3L125.6,173.3L126.1,174.2L126.6,175.1L127.1,176.0L127.6,177.0L128.1,177.9L128.6,178.8L129.1,179.7L129.6,180.6L130.1,181.4L130.6,182.3L131.1,183.2L131.6,184.0L132.1,184.9L132.6,185.7L133.1,186.6L133.6,187.4L134.1,188.3L134.6,189.1L135.1,190.0L135.6,190.8L136.1,191.7L136.6,192.5L137.1,193.3L137.6,194.1L138.1,195.0L138.6,195.8L139.1,196.6L139.6,197.4L140.1,198.2L140.6,199.0L141.1,199.9L141.6,200.7L142.1,201.6L142.6,202.6L143.1,203.5L143.6,204.5L144.1,205.6L144.6,206.7L145.1,207.8L145.6,208.9L146.1,210.0L146.6,211.1L147.1,212.2L147.6,213.2L148.1,214.3L148.6,215.3L149.1,216.4L149.6,217.4L150.1,218.4L150.6,219.4L151.1,220.5L151.6,221.5L152.1,222.5L152.6,223.6L153.1,224.6L153.6,225.6L154.1,226.6L154.6,227.6L155.1,228.7L155.6,229.7L156.1,230.7L156.6,231.7L157.1,232.7L157.6,233.7L158.1,234.7L158.6,235.7L159.1,236.7L159.6,237.7L160.1,238.6L160.6,239.6L161.1,240.6L161.6,241.5L162.1,242.5L162.6,243.4L163.1,244.4L163.6,245.3L164.1,246.3L164.6,247.2L165.1,248.1L165.6,249.1L166.1,250.0L166.6,250.9L167.1,251.8L167.6,252.7L168.1,253.7L168.6,254.6L169.1,255.5L169.6,256.4L170.1,257.3L170.6,258.2L171.1,259.1L171.6,260.0L172.1,260.9L172.6,261.8L173.1,262.7L173.6,263.6L174.1,264.4L174.6,265.3L175.1,266.2L175.6,267.1L176.1,267.9L176.6,268.8L177.1,269.6L177.6,270.5L178.1,271.3L178.6,272.1L179.1,273.0L179.6,273.8L180.1,274.6L180.6,275.4L181.1,276.2L181.6,277.0L182.1,277.8L182.6,278.6L183.1,279.4L183.6,280.1L184.1,280.9L184.6,281.7L185.1,282.4L185.6,283.2L186.1,283.9L186.6,284.7L187.1,285.4L187.6,286.2L188.1,286.9L188.6,287.6L189.1,288.3L189.6,289.0L190.1,289.7L190.6,290.4L191.1,291.1L191.6,291.8L192.1,292.4L192.6,293.1L193.1,293.7L193.6,294.4L194.1,295.0L194.6,295.6L195.1,296.2L195.6,296.8L196.1,297.4L196.6,298.0L197.1,298.6L197.6,299.1L198.1,299.7L198.6,300.2L199.1,300.7L199.6,301.2L200.1,301.7L200.6,302.2L201.1,302.7L201.6,303.1L202.1,303.6L202.6,304.1L203.1,304.6L203.6,305.0L204.1,305.5L204.6,305.9L205.1,306.4L205.6,306.8L206.1,307.3L206.6,307.7L207.1,308.2L207.6,308.6L208.1,309.0L208.6,309.5L209.1,309.9L209.6,310.3L210.1,310.7L210.6,311.1L211.1,311.6L211.6,312.0L212.1,312.4L212.6,312.8L213.1,313.2L213.6,313.6L214.1,314.0L214.6,314.4L215.1,314.8L215.6,315.2L216.1,315.6L216.6,316.0L217.1,316.3L217.6,316.7L218.1,317.1L218.6,317.5L219.1,317.9L219.6,318.3L220.1,318.7L220.6,319.1L221.1,319.4L221.6,319.8L222.1,320.2L222.6,320.6L223.1,321.0L223.6,321.3L224.1,321.7L224.6,322.1L225.1,322.5L225.6,322.8L226.1,323.2L226.6,323.6L227.1,323.9L227.6,324.3L228.1,324.7L228.6,325.0L229.1,325.4L229.6,325.7L230.1,326.1L230.6,326.4L231.1,326.8L231.6,327.1L232.1,327.5L232.6,327.8L233.1,328.1L233.6,328.5L234.1,328.8L234.6,329.1L235.1,329.5L235.6,329.8L236.1,330.1L236.6,330.5L237.1,330.8L237.6,331.1L238.1,331.4L238.6,331.7L239.1,332.1L239.6,332.4L240.1,332.7L240.6,333.0L241.1,333.3L241.6,333.6L242.1,333.9L242.6,334.2L243.1,334.5L243.6,334.8L244.1,335.1L244.6,335.4L245.1,335.7L245.6,336.0L246.1,336.3L246.6,336.6L247.1,336.9L247.6,337.2L248.1,337.5L248.6,337.7L249.1,338.0L249.6,338.3L250.1,338.6L250.6,338.9L251.1,339.1L251.6,339.4L252.1,339.7L252.6,340.0L253.1,340.2L253.6,340.5L254.1,340.8L254.6,341.0L255.1,341.3L255.6,341.6L256.1,341.8L256.6,342.1L257.1,342.3L257.6,342.6L258.1,342.8L258.6,343.1L259.1,343.4L259.6,343.6L260.1,343.8L260.6,344.1L261.1,344.3L261.6,344.6L262.1,344.8L262.6,345.1L263.1,345.3L263.6,345.5L264.1,345.8L264.6,346.0L265.1,346.2L265.6,346.5L266.1,346.7L266.6,346.9L267.1,347.1L267.6,347.4L268.1,347.6L268.6,347.8L269.1,348.0L269.6,348.2L270.1,348.4L270.6,348.6L271.1,348.8L271.6,349.0L272.1,349.2L272.6,349.4L273.1,349.6L273.6,349.8L274.1,350.0L274.6,350.2L275.1,350.4L275.6,350.6L276.1,350.8L276.6,351.0L277.1,351.2L277.6,351.4L278.1,351.6L278.6,351.7L279.1,351.9L279.6,352.1L280.1,352.3L280.6,352.4L281.1,352.6L281.6,352.8L282.1,353.0L282.6,353.1L283.1,353.3L283.6,353.5L284.1,353.6L284.6,353.8L285.1,354.0L285.6,354.1L286.1,354.3L286.6,354.4L287.1,354.6L287.6,354.7L288.1,354.9L288.6,355.0L289.1,355.2L289.6,355.3L290.1,355.5L290.6,355.6L291.1,355.8L291.6,355.9L292.1,356.1L292.6,356.2L293.1,356.3L293.6,356.5L294.1,356.6L294.6,356.7L295.1,356.9L295.6,357.0L296.1,357.1L296.6,357.3L297.1,357.4L297.6,357.5L298.1,357.6L298.6,357.8L299.1,357.9L299.6,358.0L300.0,358.1"/>
</g>
<g stroke="#0000ff" stroke-width="0.7" opacity="0.7">
<path d="M105.6,102.4L106.0,99.3L106.4,96.5L106.8,94.0L107.2,91.8L107.6,89.8L108.0,88.0L108.4,86.4L108.8,84.9L109.2,83.6L109.6,82.4L110.0,81.2L110.4,80.2L110.8,79.3L111.2,78.5L111.6,77.8L112.0,77.3L112.4,77.2L112.8,77.3L113.2,77.5L113.6,77.8L114.0,78.1L114.4,78.6L114.8,79.0L115.2,79.6L115.6,80.1L116.0,80.7L116.4,81.3L116.8,81.8L117.2,82.4L117.6,83.0L118.0,83.5L118.4,84.0L118.8,84.5L119.2,85.0L119.6,85.5L120.0,86.0L120.4,86.5L120.8,86.9L121.2,87.3L121.6,87.5L122.0,87.4L122.4,87.2L122.8,86.9L123.2,86.7L123.6,86.4L124.0,86.2L124.4,86.0L124.8,85.7L125.2,85.5L125.6,85.3L126.0,85.1L126.4,84.8L126.8,84.6L127.2,84.4L127.6,84.2L128.0,84.1L128.4,84.0L128.8,83.9L129.2,83.9L129.6,83.8L130.0,83.8L130.4,83.7L130.8,83.6L131.2,83.6L131.6,83.6L132.0,83.5L132.4,83.5L132.8,83.5L133.2,83.5L133.6,83.5L134.0,83.6L134.4,83.6L134.8,83.6L135.2,83.6L135.6,83.7L136.0,83.7L136.1,83.8L136.6,83.9L137.1,84.1L137.6,84.3L138.1,84.5L138.6,84.8L139.1,85.1L139.6,85.4L140.1,85.7L140.6,85.9L141.1,86.2L141.6,86.5L142.1,86.7L142.6,87.0L143.1,87.3L143.6,87.6L144.1,87.9L144.6,88.2L145.1,88.5L145.6,88.8L146.1,89.1L146.6,89.4L147.1,89.8L147.6,90.1L148.1,90.5L148.6,90.8L149.1,91.2L149.6,91.6L150.1,92.0L150.6,92.4L151.1,92.8L151.6,93.2L152.1,93.6L152.6,94.0L153.1,94.5L153.6,94.9L154.1,95.4L154.6,95.8L155.1,96.3L155.6,96.8L156.1,97.3L156.6,97.8L157.1,98.3L157.6,98.8L158.1,99.3L158.6,99.9L159.1,100.4L159.6,101.0L160.1,101.5L160.6,102.1L161.1,102.7L161.6,103.3L162.1,103.9L162.6,104.5L163.1,105.1L163.6,105.7L164.1,106.4L164.6,107.0L165.1,107.7L165.6,108.4L166.1,109.0L166.6,109.7L167.1,110.4L167.6,111.1L168.1,111.8L168.6,112.5L169.1,113.2L169.6,113.9L170.1,114.6L170.6,115.3L171.1,115.9L171.6,116.6L172.1,117.3L172.6,118.0L173.1,118.7L173.6,119.4L174.1,120.1L174.6,120.8L175.1,121.5L175.6,122.2L176.1,123.0L176.6,123.8L177.1,124.6L177.6,125.4L178.1,126.2L178.6,127.0L179.1,127.9L179.6,128.7L180.1,129.5L180.6,130.4L181.1,131.2L181.6,132.1L182.1,133.0L182.6,133.8L183.1,134.7L183.6,135.6L184.1,136.4L184.6,137.3L185.1,138.1L185.6,139.0L186.1,139.9L186.6,140.7L187.1,141.6L187.6,142.4L188.1,143.2L188.6,144.1L189.1,144.9L189.6,145.7L190.1,146.5L190.6,147.3L191.1,148.2L191.6,149.0L192.1,149.8L192.6,150.6L193.1,151.4L193.6,152.2L194.1,153.0L194.6,153.8L195.1,154.6L195.6,155.4L196.1,156.2L196.6,156.9L197.1,157.7L197.6,158.5L198.1,159.3L198.6,160.1L199.1,160.9L199.6,161.7L200.1,162.5L200.6,163.2L201.1,164.0L201.6,164.8L202.1,165.6L202.6,166.3L203.1,167.1L203.6,167.9L204.1,168.7L204.6,169.4L205.1,170.2L205.6,171.0L206.1,171.7L206.6,172.5L207.1,173.3L207.6,174.0L208.1,174.8L208.6,175.5L209.1,176.3L209.6,177.0L210.1,177.8L210.6,178.6L211.1,179.3L211.6,180.1L212.1,180.8L212.6,181.6L213.1,182.3L213.6,183.1L214.1,183.8L214.6,184.6L215.1,185.3L215.6,186.0L216.1,186.8L216.6,187.5L217.1,188.3L217.6,189.0L218.1,189.7L218.6,190.5L219.1,191.2L219.6,192.0L220.1,192.7L220.6,193.4L221.1,194.2L221.6,194.9L222.1,195.6L222.6,196.3L223.1,197.1L223.6,197.8L224.1,198.5L224.6,199.2L225.1,200.0L225.6,200.7L226.1,201.4L226.6,202.1L227.1,202.8L227.6,203.5L228.1,204.2L228.6,204.9L229.1,205.6L229.6,206.2L230.1,206.9L230.6,207.6L231.1,208.3L231.6,209.0L232.1,209.7L232.6,210.3L233.1,211.0L233.6,211.7L234.1,212.3L234.6,213.0L235.1,213.7L235.6,214.3L236.1,215.0L236.6,215.6L237.1,216.3L237.6,216.9L238.1,217.6L238.6,218.2L239.1,218.9L239.6,219.5L240.1,220.1L240.6,220.8L241.1,221.4L241.6,222.0L242.1,222.6L242.6,223.3L243.1,223.9L243.6,224.5L244.1,225.1L244.6,225.7L245.1,226.3L245.6,226.9L246.1,227.5L246.6,228.1L247.1,228.6L247.6,229.2L248.1,229.8L248.6,230.4L249.1,230.9L249.6,231.5L250.1,232.1L250.6,232.6L251.1,233.2L251.6,233.7L252.1,234.2L252.6,234.8L253.1,235.3L253.6,235.8L254.1,236.3L254.6,236.9L255.1,237.4L255.6,237.9L256.1,238.4L256.6,238.9L257.1,239.4L257.6,240.0L258.1,240.5L258.6,240.9L259.1,241.4L259.6,241.8L260.1,242.2L260.6,242.6L261.1,243.0L261.6,243.4L262.1,243.7L262.6,244.1L263.1,244.5L263.6,244.9L264.1,245.3L264.6,245.7L265.1,246.0L265.6,246.4L266.1,246.8L266.6,247.2L267.1,247.6L267.6,248.0L268.1,248.4L268.6,248.8L269.1,249.2L269.6,249.6L270.1,250.0L270.6,250.5L271.1,251.0L271.6,251.5L272.1,252.0L272.6,252.6L273.1,253.2L273.6,254.1L274.1,255.0L274.6,255.9L275.1,257.1L275.6,258.8L276.1,261.3L276.6,264.7L277.1,268.6L277.6,272.7L278.1,277.0L278.6,281.1L279.1,282.6L279.6,277.2L280.1,272.6L280.6,269.9L281.1,268.8L281.6,268.3L282.1,268.0L282.6,267.6L283.1,267.8L283.6,268.8L284.1,270.7L284.6,273.0L285.1,275.6L285.6,275.2L286.1,273.5L286.6,275.2L287.1,277.0L287.6,278.7L288.1,280.1L288.6,280.4L289.1,278.0L289.6,275.3L290.1,273.5L290.6,271.8L291.1,270.7L291.6,269.7L292.1,268.9L292.6,268.2L293.1,267.6L293.6,267.0L294.1,266.4L294.6,266.1L295.1,265.8L295.6,265.7L296.1,265.6L296.6,265.7L297.1,265.8L297.6,266.0L298.1,266.2L298.6,266.4L299.1,266.6L299.6,266.8L300.0,267.0L301.0,267.4L302.0,267.8L303.0,268.3L304.0,268.7L305.0,269.2L306.0,269.7L307.0,270.1L308.0,270.6L309.0,271.1L310.0,271.6L311.0,272.1L312.0,272.5L313.0,273.0L314.0,273.5L315.0,274.0L316.0,274.5L317.0,275.0L318.0,275.5L319.0,276.0L320.0,276.5L321.0,276.9L322.0,277.3L323.0,277.6L324.0,278.0L325.0,278.3L326.0,278.6L327.0,279.0L328.0,279.3L329.0,279.7L330.0,280.1L331.0,280.4L332.0,280.8L333.0,281.2L334.0,281.6L335.0,281.9L336.0,282.3L337.0,282.7L338.0,283.0L339.0,283.3L340.0,283.7L341.0,284.0L342.0,284.3L343.0,284.6L344.0,284.8L345.0,285.1L346.0,285.3L347.0,285.5L348.0,285.7L349.0,285.9L350.0,286.1L351.0,286.3L352.0,286.5L353.0,286.7L354.0,286.9L355.0,287.1L356.0,287.3L357.0,287.5L358.0,287.7L359.0,287.9L360.0,288.0L361.0,288.2L362.0,288.3L363.0,288.5L364.0,288.6L365.0,288.6L366.0,288.7L367.0,288.7L368.0,288.7L369.0,288.7L370.0,288.6L371.0,288.6L372.0,288.5L373.0,288.4L374.0,288.3L375.0,288.2L376.0,288.1L377.0,288.0L378.0,287.8L379.0,287.7L380.0,287.6L381.0,287.5L382.0,287.4L383.0,287.2L384.0,287.1L385.0,286.9L386.0,286.7L387.0,286.4L388.0,286.2L389.0,286.0L390.0,285.8L391.0,285.7L392.0,285.6L393.0,285.7L394.0,285.7L395.0,285.6L396.0,285.5L397.0,285.5L398.0,285.5L399.0,285.5L400.0,285.5L401.0,285.5L402.0,285.5L403.0,285.6L404.0,285.6L405.0,285.6L406.0,285.7L407.0,285.7L408.0,285.8L409.0,285.8L410.0,285.8L411.0,285.9L412.0,285.9L413.0,285.9L414.0,286.0L415.0,286.0L416.0,286.0L417.0,286.1L418.0,286.1L419.0,286.1L420.0,286.2L421.0,286.2L422.0,286.3L423.0,286.3L424.0,286.3L425.0,286.4L426.0,286.4L427.0,286.4L428.0,286.5L429.0,286.5L430.0,286.5L431.0,286.6L432.0,286.6L433.0,286.6L434.0,286.7L435.0,286.8L436.0,287.0L437.0,287.1L438.0,287.3L439.0,287.6L440.0,287.8L441.0,288.1L442.0,288.4L443.0,288.7L444.0,289.0L445.0,289.3L446.0,289.6L447.0,290.2L448.0,291.0L449.0,291.9L450.0,292.6L451.0,293.0L452.0,293.0L453.0,292.8L454.0,292.6L455.0,292.3L456.0,292.0L457.0,291.9L458.0,291.7L459.0,291.5L460.0,291.4L461.0,291.2L462.0,291.0L463.0,290.8L464.0,290.6L465.0,290.5L466.0,290.3L467.0,290.1L468.0,290.0L469.0,289.9L470.0,289.8L471.0,289.7L472.0,289.7L473.0,289.7L474.0,289.7L475.0,289.8L476.0,289.9L477.0,290.0L478.0,290.2L479.0,290.4L480.0,290.5L481.0,290.7L482.0,290.9L483.0,291.0L484.0,291.2L485.0,291.4L486.0,291.6L487.0,291.8L488.0,292.0L489.0,292.3L490.0,292.6L491.0,292.9L492.0,293.3L493.0,293.8L494.0,294.3L495.0,294.8L496.0,295.3L497.0,295.9L498.0,296.4L499.0,297.0L500.0,297.5L501.0,298.0L502.0,298.5L503.0,299.1L504.0,299.7L505.0,300.3L506.0,301.1L507.0,302.4L508.0,304.1L509.0,306.0L510.0,307.7L511.0,310.2L512.0,312.8L513.0,314.1L514.0,313.1L515.0,310.5L516.0,307.8L517.0,306.2L518.0,304.7L519.0,303.6L520.0,302.8L521.0,302.1L522.0,301.4L523.0,300.8L524.0,300.4L525.0,300.1L526.0,301.6L527.0,307.3L528.0,310.7L529.0,313.2L530.0,315.8L531.0,318.6L532.0,321.5L533.0,324.4L534.0,327.1L535.0,329.6L536.0,331.6L537.0,333.3L538.0,334.9L539.0,336.5L540.0,338.4L541.0,340.4L542.0,342.4L543.0,344.2L544.0,345.8L545.0,347.1L546.0,348.3L547.0,349.5L548.0,350.6L549.0,351.7L550.0,353.0L551.0,354.2L552.0,355.5L553.0,356.6L554.0,358.0L555.0,361.2L556.0,366.8L557.0,368.6L558.0,370.2L559.0,371.8L560.0,373.3L561.0,374.4L562.0,375.3L563.0,376.0L564.0,376.4L565.0,376.6L566.0,376.8L567.0,377.0L568.0,377.2L569.0,377.4L570.0,377.7L571.0,378.0L572.0,378.2L573.0,378.5L574.0,378.8L575.0,379.1L576.0,379.4L577.0,379.7L578.0,379.9L579.0,380.2L580.0,380.4L581.0,380.6L582.0,380.7L583.0,380.8L584.0,380.9L585.0,381.0L586.0,381.1L587.0,381.2L588.0,381.2L589.0,381.2L590.0,381.2L591.0,381.3L592.0,381.3L593.0,381.3L594.0,381.3L595.0,381.3L596.0,381.4L597.0,381.4L598.0,381.4L599.0,381.4L600.0,381.4L601.0,381.4L602.0,381.5L603.0,381.5L604.0,381.5L605.0,381.5L606.0,381.5L607.0,381.5L608.0,381.5L609.0,381.5L610.0,381.6L611.0,381.6L612.0,381.6L613.0,381.6L614.0,381.6L615.0,381.6L616.0,381.6L617.0,381.6L618.0,381.6L619.0,381.6L620.0,381.6L621.0,381.6L622.0,381.6L623.0,381.6L624.0,381.6L625.0,381.6L626.0,381.6L627.0,381.6L628.0,381.6L629.0,381.6L630.0,381.6L631.0,381.6L632.0,381.6L633.0,381.6L634.0,381.6L635.0,381.6L636.0,381.6L637.0,381.6L638.0,381.6L639.0,381.6L640.0,381.6L641.0,381.6L642.0,381.6L643.0,381.6L644.0,381.6L645.0,381.6L646.0,381.6L647.0,381.6L648.0,381.6L649.0,381.6L650.0,381.7L651.0,381.7L652.0,381.7L653.0,381.7L654.0,381.7L655.0,381.7L656.0,381.7L657.0,381.7L658.0,381.7L659.0,381.7L660.0,381.7L661.0,381.7L662.0,381.7L663.0,381.7L664.0,381.7L665.0,381.7L666.0,381.7L667.0,381.7L668.0,381.7L669.0,381.7L670.0,381.7L671.0,381.7L672.0,381.7L673.0,381.7L674.0,381.7L675.0,381.7L676.0,381.7L677.0,381.7L678.0,381.7L679.0,381.7L680.0,381.7L681.0,381.7L682.0,381.6L683.0,381.6L684.0,381.6L685.0,381.6L686.0,381.6L687.0,381.6L688.0,381.6L689.0,381.6L690.0,381.6L691.0,381.6L692.0,381.6L693.0,381.6"/><path d="M105.6,102.4L106.0,99.4L106.4,96.7L106.8,94.4L107.2,92.4L107.6,90.6L108.0,88.9L108.4,87.4L108.8,85.9L109.2,84.5L109.6,83.3L110.0,82.1L110.4,81.0L110.8,80.0L111.2,79.4L111.6,79.2L112.0,79.3L112.4,79.6L112.8,79.9L113.2,80.4L113.6,80.9L114.0,81.5L114.4,82.1L114.8,82.8L115.2,83.5L115.6,84.2L116.0,84.9L116.4,85.6L116.8,86.2L117.2,86.8L117.6,87.3L118.0,87.9L118.4,88.4L118.8,88.9L119.2,89.3L119.6,89.7L120.0,90.1L120.4,90.3L120.8,90.5L121.2,90.6L121.6,90.6L122.0,90.5L122.4,90.4L122.8,90.2L123.2,90.0L123.6,89.8L124.0,89.6L124.4,89.4L124.8,89.2L125.2,88.9L125.6,88.7L126.0,88.4L126.4,88.2L126.8,88.0L127.2,87.8L127.6,87.6L128.0,87.5L128.4,87.4L128.8,87.3L129.2,87.2L129.6,87.2L130.0,87.1L130.4,87.1L130.8,87.1L131.2,87.1L131.6,87.2L132.0,87.2L132.4,87.3L132.8,87.3L133.2,87.4L133.6,87.5L134.0,87.6L134.4,87.7L134.8,87.8L135.2,87.9L135.6,88.0L136.1,88.2L136.6,88.4L137.1,88.6L137.6,88.9L138.1,89.3L138.6,89.6L139.1,90.0L139.6,90.4L140.1,90.8L140.6,91.1L141.1,91.5L141.6,91.8L142.1,92.2L142.6,92.6L143.1,93.0L143.6,93.3L144.1,93.7L144.6,94.1L145.1,94.5L145.6,95.0L146.1,95.4L146.6,95.8L147.1,96.3L147.6,96.7L148.1,97.2L148.6,97.6L149.1,98.1L149.6,98.6L150.1,99.1L150.6,99.6L151.1,100.1L151.6,100.6L152.1,101.1L152.6,101.6L153.1,102.1L153.6,102.7L154.1,103.2L154.6,103.8L155.1,104.3L155.6,104.9L156.1,105.5L156.6,106.1L157.1,106.7L157.6,107.3L158.1,107.9L158.6,108.5L159.1,109.1L159.6,109.8L160.1,110.4L160.6,111.1L161.1,111.7L161.6,112.4L162.1,113.1L162.6,113.7L163.1,114.4L163.6,115.1L164.1,115.8L164.6,116.5L165.1,117.3L165.6,118.0L166.1,118.7L166.6,119.5L167.1,120.2L167.6,121.0L168.1,121.7L168.6,122.5L169.1,123.3L169.6,124.0L170.1,124.8L170.6,125.5L171.1,126.3L171.6,127.1L172.1,127.9L172.6,128.6L173.1,129.4L173.6,130.2L174.1,130.9L174.6,131.7L175.1,132.5L175.6,133.3L176.1,134.2L176.6,135.0L177.1,135.8L177.6,136.7L178.1,137.5L178.6,138.4L179.1,139.2L179.6,140.1L180.1,140.9L180.6,141.8L181.1,142.7L181.6,143.5L182.1,144.4L182.6,145.3L183.1,146.1L183.6,147.0L184.1,147.9L184.6,148.7L185.1,149.6L185.6,150.5L186.1,151.3L186.6,152.2L187.1,153.0L187.6,153.9L188.1,154.7L188.6,155.6L189.1,156.4L189.6,157.3L190.1,158.1L190.6,158.9L191.1,159.8L191.6,160.6L192.1,161.4L192.6,162.2L193.1,163.1L193.6,163.9L194.1,164.7L194.6,165.5L195.1,166.3L195.6,167.1L196.1,167.9L196.6,168.7L197.1,169.5L197.6,170.3L198.1,171.1L198.6,171.9L199.1,172.7L199.6,173.5L200.1,174.3L200.6,175.1L201.1,175.9L201.6,176.7L202.1,177.5L202.6,178.3L203.1,179.0L203.6,179.8L204.1,180.6L204.6,181.4L205.1,182.1L205.6,182.9L206.1,183.7L206.6,184.5L207.1,185.2L207.6,186.0L208.1,186.7L208.6,187.5L209.1,188.3L209.6,189.0L210.1,189.8L210.6,190.5L211.1,191.3L211.6,192.0L212.1,192.8L212.6,193.5L213.1,194.3L213.6,195.0L214.1,195.7L214.6,196.5L215.1,197.2L215.6,198.0L216.1,198.7L216.6,199.4L217.1,200.1L217.6,200.9L218.1,201.6L218.6,202.3L219.1,203.0L219.6,203.8L220.1,204.5L220.6,205.2L221.1,205.9L221.6,206.6L222.1,207.3L222.6,208.0L223.1,208.7L223.6,209.4L224.1,210.1L224.6,210.8L225.1,211.5L225.6,212.2L226.1,212.9L226.6,213.6L227.1,214.3L227.6,215.0L228.1,215.7L228.6,216.4L229.1,217.1L229.6,217.7L230.1,218.4L230.6,219.1L231.1,219.7L231.6,220.4L232.1,221.1L232.6,221.7L233.1,222.4L233.6,223.1L234.1,223.7L234.6,224.4L235.1,225.0L235.6,225.7L236.1,226.3L236.6,226.9L237.1,227.6L237.6,228.2L238.1,228.8L238.6,229.5L239.1,230.1L239.6,230.7L240.1,231.3L240.6,231.9L241.1,232.5L241.6,233.1L242.1,233.8L242.6,234.4L243.1,234.9L243.6,235.5L244.1,236.1L244.6,236.7L245.1,237.3L245.6,237.9L246.1,238.5L246.6,239.0L247.1,239.6L247.6,240.2L248.1,240.7L248.6,241.3L249.1,241.8L249.6,242.4L250.1,242.9L250.6,243.4L251.1,244.0L251.6,244.5L252.1,245.0L252.6,245.6L253.1,246.1L253.6,246.6L254.1,247.1L254.6,247.6L255.1,248.1L255.6,248.6L256.1,249.1L256.6,249.6L257.1,250.1L257.6,250.6L258.1,251.1L258.6,251.6L259.1,252.1L259.6,252.5L260.1,252.9L260.6,253.3L261.1,253.7L261.6,254.1L262.1,254.5L262.6,254.9L263.1,255.3L263.6,255.6L264.1,256.0L264.6,256.4L265.1,256.8L265.6,257.2L266.1,257.6L266.6,258.0L267.1,258.4L267.6,258.8L268.1,259.2L268.6,259.6L269.1,260.0L269.6,260.4L270.1,260.8L270.6,261.3L271.1,261.7L271.6,262.2L272.1,262.7L272.6,263.2L273.1,263.9L273.6,264.6L274.1,265.4L274.6,266.3L275.1,267.3L275.6,268.7L276.1,270.8L276.6,273.6L277.1,276.9L277.6,280.3L278.1,283.8L278.6,287.2L279.1,288.5L279.6,284.2L280.1,280.5L280.6,278.4L281.1,277.6L281.6,277.2L282.1,277.0L282.6,276.8L283.1,277.0L283.6,277.9L284.1,279.5L284.6,281.4L285.1,283.6L285.6,283.3L286.1,282.0L286.6,283.4L287.1,284.9L287.6,286.4L288.1,287.6L288.6,287.8L289.1,286.0L289.6,283.9L290.1,282.5L290.6,281.2L291.1,280.3L291.6,279.6L292.1,279.0L292.6,278.5L293.1,278.1L293.6,277.6L294.1,277.3L294.6,277.0L295.1,276.9L295.6,276.8L296.1,276.8L296.6,276.9L297.1,277.1L297.6,277.3L298.1,277.5L298.6,277.7L299.1,277.9L299.6,278.1L300.0,278.2L301.0,278.7L302.0,279.1L303.0,279.5L304.0,280.0L305.0,280.4L306.0,280.8L307.0,281.3L308.0,281.7L309.0,282.2L310.0,282.6L311.0,283.1L312.0,283.5L313.0,284.0L314.0,284.4L315.0,284.9L316.0,285.3L317.0,285.8L318.0,286.2L319.0,286.7L320.0,287.1L321.0,287.5L322.0,287.8L323.0,288.2L324.0,288.5L325.0,288.8L326.0,289.2L327.0,289.5L328.0,289.8L329.0,290.2L330.0,290.5L331.0,290.8L332.0,291.2L333.0,291.5L334.0,291.9L335.0,292.2L336.0,292.5L337.0,292.8L338.0,293.2L339.0,293.5L340.0,293.8L341.0,294.0L342.0,294.3L343.0,294.6L344.0,294.8L345.0,295.0L346.0,295.2L347.0,295.4L348.0,295.6L349.0,295.8L350.0,295.9L351.0,296.1L352.0,296.3L353.0,296.4L354.0,296.6L355.0,296.8L356.0,296.9L357.0,297.1L358.0,297.3L359.0,297.4L360.0,297.6L361.0,297.7L362.0,297.8L363.0,297.9L364.0,298.0L365.0,298.1L366.0,298.1L367.0,298.2L368.0,298.2L369.0,298.1L370.0,298.1L371.0,298.0L372.0,298.0L373.0,297.9L374.0,297.8L375.0,297.7L376.0,297.6L377.0,297.5L378.0,297.4L379.0,297.2L380.0,297.1L381.0,297.0L382.0,296.9L383.0,296.8L384.0,296.6L385.0,296.4L386.0,296.2L387.0,296.0L388.0,295.8L389.0,295.6L390.0,295.5L391.0,295.3L392.0,295.3L393.0,295.3L394.0,295.3L395.0,295.3L396.0,295.3L397.0,295.3L398.0,295.3L399.0,295.3L400.0,295.3L401.0,295.3L402.0,295.4L403.0,295.4L404.0,295.4L405.0,295.5L406.0,295.5L407.0,295.5L408.0,295.6L409.0,295.6L410.0,295.7L411.0,295.7L412.0,295.7L413.0,295.8L414.0,295.8L415.0,295.8L416.0,295.9L417.0,295.9L418.0,295.9L419.0,296.0L420.0,296.0L421.0,296.0L422.0,296.1L423.0,296.1L424.0,296.1L425.0,296.2L426.0,296.2L427.0,296.3L428.0,296.3L429.0,296.3L430.0,296.4L431.0,296.4L432.0,296.4L433.0,296.5L434.0,296.5L435.0,296.6L436.0,296.8L437.0,296.9L438.0,297.1L439.0,297.3L440.0,297.5L441.0,297.7L442.0,298.0L443.0,298.2L444.0,298.5L445.0,298.7L446.0,299.0L447.0,299.5L448.0,300.2L449.0,300.9L450.0,301.4L451.0,301.8L452.0,301.8L453.0,301.6L454.0,301.4L455.0,301.2L456.0,301.1L457.0,300.9L458.0,300.8L459.0,300.7L460.0,300.6L461.0,300.4L462.0,300.3L463.0,300.2L464.0,300.0L465.0,299.9L466.0,299.8L467.0,299.7L468.0,299.6L469.0,299.5L470.0,299.4L471.0,299.4L472.0,299.4L473.0,299.4L474.0,299.4L475.0,299.5L476.0,299.6L477.0,299.8L478.0,299.9L479.0,300.1L480.0,300.2L481.0,300.4L482.0,300.5L483.0,300.7L484.0,300.8L485.0,301.0L486.0,301.1L487.0,301.3L488.0,301.5L489.0,301.7L490.0,302.0L491.0,302.3L492.0,302.6L493.0,303.0L494.0,303.4L495.0,303.8L496.0,304.3L497.0,304.8L498.0,305.2L499.0,305.7L500.0,306.1L501.0,306.6L502.0,307.0L503.0,307.4L504.0,307.9L505.0,308.5L506.0,309.1L507.0,310.2L508.0,311.6L509.0,313.1L510.0,314.6L511.0,316.5L512.0,318.6L513.0,319.7L514.0,318.9L515.0,316.8L516.0,314.7L517.0,313.4L518.0,312.2L519.0,311.3L520.0,310.7L521.0,310.2L522.0,309.6L523.0,309.2L524.0,308.9L525.0,308.7L526.0,310.1L527.0,315.1L528.0,318.3L529.0,320.7L530.0,323.1L531.0,325.7L532.0,328.3L533.0,330.9L534.0,333.4L535.0,335.6L536.0,337.4L537.0,339.0L538.0,340.5L539.0,342.0L540.0,343.6L541.0,345.4L542.0,347.1L543.0,348.7L544.0,350.1L545.0,351.2L546.0,352.3L547.0,353.3L548.0,354.3L549.0,355.4L550.0,356.5L551.0,357.5L552.0,358.6L553.0,359.6L554.0,360.8L555.0,363.7L556.0,368.4L557.0,370.2L558.0,371.6L559.0,373.0L560.0,374.3L561.0,375.3L562.0,376.1L563.0,376.7L564.0,377.0L565.0,377.2L566.0,377.4L567.0,377.6L568.0,377.8L569.0,378.0L570.0,378.3L571.0,378.5L572.0,378.7L573.0,379.0L574.0,379.2L575.0,379.5L576.0,379.7L577.0,379.9L578.0,380.2L579.0,380.4L580.0,380.5L581.0,380.7L582.0,380.8L583.0,380.9L584.0,381.0L585.0,381.1L586.0,381.1L587.0,381.2L588.0,381.2L589.0,381.2L590.0,381.2L591.0,381.3L592.0,381.3L593.0,381.3L594.0,381.3L595.0,381.3L596.0,381.4L597.0,381.4L598.0,381.4L599.0,381.4L600.0,381.4L601.0,381.4L602.0,381.5L603.0,381.5L604.0,381.5L605.0,381.5L606.0,381.5L607.0,381.5L608.0,381.5L609.0,381.5L610.0,381.6L611.0,381.6L612.0,381.6L613.0,381.6L614.0,381.6L615.0,381.6L616.0,381.6L617.0,381.6L618.0,381.6L619.0,381.6L620.0,381.6L621.0,381.6L622.0,381.6L623.0,381.6L624.0,381.6L625.0,381.6L626.0,381.6L627.0,381.6L628.0,381.6L629.0,381.6L630.0,381.6L631.0,381.6L632.0,381.6L633.0,381.6L634.0,381.6L635.0,381.6L636.0,381.6L637.0,381.6L638.0,381.6L639.0,381.6L640.0,381.6L641.0,381.6L642.0,381.6L643.0,381.6L644.0,381.6L645.0,381.6L646.0,381.6L647.0,381.7L648.0,381.7L649.0,381.7L650.0,381.7L651.0,381.7L652.0,381.7L653.0,381.7L654.0,381.7L655.0,381.7L656.0,381.7L657.0,381.7L658.0,381.7L659.0,381.7L660.0,381.7L661.0,381.7L662.0,381.7L663.0,381.7L664.0,381.7L665.0,381.7L666.0,381.7L667.0,381.7L668.0,381.7L669.0,381.7L670.0,381.7L671.0,381.7L672.0,381.7L673.0,381.7L674.0,381.7L675.0,381.7L676.0,381.7L677.0,381.7L678.0,381.7L679.0,381.7L680.0,381.7L681.0,381.7L682.0,381.6L683.0,381.6L684.0,381.6L685.0,381.6L686.0,381.6L687.0,381.6L688.0,381.6L689.0,381.6L690.0,381.6L691.0,381.6L692.0,381.6L693.0,381.6"/><path d="M105.6,102.4L106.0,99.3L106.4,96.7L106.8,94.4L107.2,92.4L107.6,90.6L108.0,89.0L108.4,87.6L108.8,86.4L109.2,85.3L109.6,84.3L110.0,83.7L110.4,83.5L110.8,83.7L111.2,84.0L111.6,84.5L112.0,85.1L112.4,85.8L112.8,86.6L113.2,87.5L113.6,88.4L114.0,89.3L114.4,90.2L114.8,91.1L115.2,91.9L115.6,92.7L116.0,93.4L116.4,94.1L116.8,94.7L117.2,95.4L117.6,96.0L118.0,96.5L118.4,97.0L118.8,97.4L119.2,97.8L119.6,98.0L120.0,98.2L120.4,98.3L120.8,98.4L121.2,98.4L121.6,98.4L122.0,98.2L122.4,98.1L122.8,97.9L123.2,97.7L123.6,97.5L124.0,97.3L124.4,97.1L124.8,96.9L125.2,96.7L125.6,96.5L126.0,96.4L126.4,96.2L126.8,96.0L127.2,95.9L127.6,95.8L128.0,95.7L128.4,95.6L128.8,95.6L129.2,95.6L129.6,95.6L130.0,95.6L130.4,95.7L130.8,95.8L131.2,95.9L131.6,96.1L132.0,96.3L132.4,96.5L132.8,96.8L133.2,97.0L133.6,97.3L134.0,97.6L134.1,97.7L134.6,98.0L135.1,98.2L135.6,98.5L136.1,98.8L136.6,99.2L137.1,99.6L137.6,100.1L138.1,100.6L138.6,101.1L139.1,101.6L139.6,102.2L140.1,102.7L140.6,103.2L141.1,103.8L141.6,104.3L142.1,104.9L142.6,105.4L143.1,106.0L143.6,106.6L144.1,107.2L144.6,107.8L145.1,108.4L145.6,109.0L146.1,109.6L146.6,110.2L147.1,110.9L147.6,111.5L148.1,112.1L148.6,112.8L149.1,113.4L149.6,114.1L150.1,114.8L150.6,115.5L151.1,116.1L151.6,116.8L152.1,117.5L152.6,118.3L153.1,119.0L153.6,119.7L154.1,120.4L154.6,121.1L155.1,121.9L155.6,122.6L156.1,123.4L156.6,124.1L157.1,124.9L157.6,125.6L158.1,126.4L158.6,127.2L159.1,127.9L159.6,128.7L160.1,129.5L160.6,130.3L161.1,131.1L161.6,131.9L162.1,132.7L162.6,133.5L163.1,134.3L163.6,135.1L164.1,136.0L164.6,136.8L165.1,137.6L165.6,138.5L166.1,139.3L166.6,140.1L167.1,141.0L167.6,141.8L168.1,142.7L168.6,143.6L169.1,144.5L169.6,145.3L170.1,146.2L170.6,147.2L171.1,148.1L171.6,149.0L172.1,149.9L172.6,150.8L173.1,151.8L173.6,152.7L174.1,153.7L174.6,154.6L175.1,155.5L175.6,156.5L176.1,157.4L176.6,158.3L177.1,159.2L177.6,160.1L178.1,161.1L178.6,162.0L179.1,162.9L179.6,163.8L180.1,164.7L180.6,165.6L181.1,166.5L181.6,167.4L182.1,168.2L182.6,169.1L183.1,170.0L183.6,170.9L184.1,171.8L184.6,172.7L185.1,173.6L185.6,174.4L186.1,175.3L186.6,176.2L187.1,177.1L187.6,177.9L188.1,178.8L188.6,179.7L189.1,180.6L189.6,181.4L190.1,182.3L190.6,183.2L191.1,184.1L191.6,184.9L192.1,185.8L192.6,186.7L193.1,187.5L193.6,188.4L194.1,189.2L194.6,190.1L195.1,190.9L195.6,191.8L196.1,192.6L196.6,193.5L197.1,194.3L197.6,195.1L198.1,196.0L198.6,196.8L199.1,197.6L199.6,198.4L200.1,199.3L200.6,200.1L201.1,200.9L201.6,201.7L202.1,202.5L202.6,203.3L203.1,204.1L203.6,204.9L204.1,205.7L204.6,206.5L205.1,207.3L205.6,208.1L206.1,208.9L206.6,209.7L207.1,210.4L207.6,211.2L208.1,212.0L208.6,212.7L209.1,213.5L209.6,214.3L210.1,215.0L210.6,215.8L211.1,216.5L211.6,217.3L212.1,218.0L212.6,218.8L213.1,219.5L213.6,220.2L214.1,221.0L214.6,221.7L215.1,222.4L215.6,223.1L216.1,223.8L216.6,224.6L217.1,225.3L217.6,226.0L218.1,226.7L218.6,227.4L219.1,228.1L219.6,228.8L220.1,229.4L220.6,230.1L221.1,230.8L221.6,231.5L222.1,232.1L222.6,232.8L223.1,233.5L223.6,234.1L224.1,234.8L224.6,235.5L225.1,236.1L225.6,236.7L226.1,237.4L226.6,238.0L227.1,238.7L227.6,239.3L228.1,239.9L228.6,240.6L229.1,241.2L229.6,241.8L230.1,242.4L230.6,243.0L231.1,243.6L231.6,244.2L232.1,244.8L232.6,245.4L233.1,246.0L233.6,246.6L234.1,247.2L234.6,247.8L235.1,248.4L235.6,249.0L236.1,249.5L236.6,250.1L237.1,250.7L237.6,251.2L238.1,251.8L238.6,252.4L239.1,252.9L239.6,253.5L240.1,254.0L240.6,254.6L241.1,255.1L241.6,255.6L242.1,256.2L242.6,256.7L243.1,257.2L243.6,257.8L244.1,258.3L244.6,258.8L245.1,259.3L245.6,259.8L246.1,260.3L246.6,260.8L247.1,261.4L247.6,261.9L248.1,262.4L248.6,262.8L249.1,263.3L249.6,263.8L250.1,264.3L250.6,264.8L251.1,265.3L251.6,265.8L252.1,266.2L252.6,266.7L253.1,267.2L253.6,267.6L254.1,268.1L254.6,268.6L255.1,269.0L255.6,269.5L256.1,269.9L256.6,270.4L257.1,270.8L257.6,271.3L258.1,271.7L258.6,272.2L259.1,272.6L259.6,273.0L260.1,273.4L260.6,273.8L261.1,274.2L261.6,274.5L262.1,274.9L262.6,275.3L263.1,275.7L263.6,276.1L264.1,276.4L264.6,276.8L265.1,277.2L265.6,277.6L266.1,277.9L266.6,278.3L267.1,278.7L267.6,279.1L268.1,279.4L268.6,279.8L269.1,280.2L269.6,280.6L270.1,281.0L270.6,281.4L271.1,281.8L271.6,282.2L272.1,282.6L272.6,283.1L273.1,283.6L273.6,284.1L274.1,284.7L274.6,285.4L275.1,286.1L275.6,287.0L276.1,288.4L276.6,290.1L277.1,292.1L277.6,294.2L278.1,296.3L278.6,298.4L279.1,299.3L279.6,296.9L280.1,295.0L280.6,293.9L281.1,293.5L281.6,293.4L282.1,293.5L282.6,293.5L283.1,293.7L283.6,294.3L284.1,295.4L284.6,296.6L285.1,297.9L285.6,297.9L286.1,297.2L286.6,298.2L287.1,299.2L287.6,300.1L288.1,300.9L288.6,301.2L289.1,300.2L289.6,299.1L290.1,298.4L290.6,297.8L291.1,297.4L291.6,297.1L292.1,296.9L292.6,296.7L293.1,296.5L293.6,296.4L294.1,296.3L294.6,296.3L295.1,296.3L295.6,296.4L296.1,296.5L296.6,296.6L297.1,296.8L297.6,297.0L298.1,297.2L298.6,297.4L299.1,297.6L299.6,297.8L300.0,298.0L301.0,298.4L302.0,298.8L303.0,299.2L304.0,299.6L305.0,300.0L306.0,300.4L307.0,300.8L308.0,301.2L309.0,301.6L310.0,302.0L311.0,302.4L312.0,302.7L313.0,303.1L314.0,303.5L315.0,303.9L316.0,304.2L317.0,304.6L318.0,304.9L319.0,305.2L320.0,305.6L321.0,305.9L322.0,306.3L323.0,306.6L324.0,307.0L325.0,307.3L326.0,307.6L327.0,307.9L328.0,308.2L329.0,308.5L330.0,308.8L331.0,309.1L332.0,309.3L333.0,309.6L334.0,309.9L335.0,310.2L336.0,310.4L337.0,310.7L338.0,310.9L339.0,311.1L340.0,311.4L341.0,311.6L342.0,311.8L343.0,312.0L344.0,312.2L345.0,312.3L346.0,312.5L347.0,312.6L348.0,312.8L349.0,312.9L350.0,313.1L351.0,313.2L352.0,313.3L353.0,313.4L354.0,313.6L355.0,313.7L356.0,313.8L357.0,313.9L358.0,314.0L359.0,314.1L360.0,314.2L361.0,314.3L362.0,314.4L363.0,314.5L364.0,314.6L365.0,314.6L366.0,314.6L367.0,314.7L368.0,314.7L369.0,314.6L370.0,314.6L371.0,314.6L372.0,314.5L373.0,314.4L374.0,314.4L375.0,314.3L376.0,314.2L377.0,314.1L378.0,314.0L379.0,313.9L380.0,313.8L381.0,313.6L382.0,313.5L383.0,313.4L384.0,313.3L385.0,313.1L386.0,313.0L387.0,312.8L388.0,312.6L389.0,312.4L390.0,312.3L391.0,312.2L392.0,312.1L393.0,312.1L394.0,312.1L395.0,312.2L396.0,312.2L397.0,312.3L398.0,312.3L399.0,312.4L400.0,312.4L401.0,312.4L402.0,312.5L403.0,312.5L404.0,312.6L405.0,312.6L406.0,312.6L407.0,312.7L408.0,312.7L409.0,312.7L410.0,312.8L411.0,312.8L412.0,312.8L413.0,312.9L414.0,312.9L415.0,312.9L416.0,313.0L417.0,313.0L418.0,313.1L419.0,313.1L420.0,313.1L421.0,313.2L422.0,313.2L423.0,313.2L424.0,313.3L425.0,313.3L426.0,313.4L427.0,313.4L428.0,313.4L429.0,313.5L430.0,313.5L431.0,313.6L432.0,313.6L433.0,313.6L434.0,313.7L435.0,313.8L436.0,313.8L437.0,313.9L438.0,314.1L439.0,314.2L440.0,314.3L441.0,314.5L442.0,314.7L443.0,314.8L444.0,315.0L445.0,315.1L446.0,315.3L447.0,315.6L448.0,316.0L449.0,316.5L450.0,316.8L451.0,317.0L452.0,317.0L453.0,317.0L454.0,316.9L455.0,316.8L456.0,316.7L457.0,316.7L458.0,316.7L459.0,316.6L460.0,316.6L461.0,316.5L462.0,316.5L463.0,316.4L464.0,316.4L465.0,316.4L466.0,316.3L467.0,316.3L468.0,316.3L469.0,316.3L470.0,316.3L471.0,316.3L472.0,316.3L473.0,316.4L474.0,316.4L475.0,316.5L476.0,316.6L477.0,316.7L478.0,316.8L479.0,317.0L480.0,317.1L481.0,317.2L482.0,317.3L483.0,317.4L484.0,317.5L485.0,317.7L486.0,317.8L487.0,317.9L488.0,318.0L489.0,318.2L490.0,318.4L491.0,318.6L492.0,318.8L493.0,319.0L494.0,319.3L495.0,319.6L496.0,319.9L497.0,320.2L498.0,320.5L499.0,320.8L500.0,321.1L501.0,321.4L502.0,321.7L503.0,322.0L504.0,322.3L505.0,322.7L506.0,323.1L507.0,323.8L508.0,324.6L509.0,325.5L510.0,326.4L511.0,327.6L512.0,328.8L513.0,329.5L514.0,329.1L515.0,327.9L516.0,326.7L517.0,326.0L518.0,325.3L519.0,324.8L520.0,324.5L521.0,324.2L522.0,324.0L523.0,323.7L524.0,323.6L525.0,323.6L526.0,324.9L527.0,328.7L528.0,331.5L529.0,333.7L530.0,335.9L531.0,338.1L532.0,340.2L533.0,342.4L534.0,344.3L535.0,346.1L536.0,347.6L537.0,349.0L538.0,350.2L539.0,351.4L540.0,352.7L541.0,354.0L542.0,355.3L543.0,356.5L544.0,357.5L545.0,358.4L546.0,359.3L547.0,360.1L548.0,360.9L549.0,361.7L550.0,362.6L551.0,363.3L552.0,364.1L553.0,364.8L554.0,365.8L555.0,368.0L556.0,371.3L557.0,373.0L558.0,374.2L559.0,375.2L560.0,376.2L561.0,376.9L562.0,377.4L563.0,377.8L564.0,378.1L565.0,378.3L566.0,378.5L567.0,378.7L568.0,378.9L569.0,379.1L570.0,379.3L571.0,379.4L572.0,379.6L573.0,379.8L574.0,379.9L575.0,380.1L576.0,380.3L577.0,380.4L578.0,380.5L579.0,380.7L580.0,380.8L581.0,380.8L582.0,380.9L583.0,381.0L584.0,381.1L585.0,381.1L586.0,381.1L587.0,381.2L588.0,381.2L589.0,381.2L590.0,381.2L591.0,381.3L592.0,381.3L593.0,381.3L594.0,381.3L595.0,381.3L596.0,381.4L597.0,381.4L598.0,381.4L599.0,381.4L600.0,381.4L601.0,381.4L602.0,381.5L603.0,381.5L604.0,381.5L605.0,381.5L606.0,381.5L607.0,381.5L608.0,381.5L609.0,381.5L610.0,381.5L611.0,381.6L612.0,381.6L613.0,381.6L614.0,381.6L615.0,381.6L616.0,381.6L617.0,381.6L618.0,381.6L619.0,381.6L620.0,381.6L621.0,381.6L622.0,381.6L623.0,381.6L624.0,381.6L625.0,381.6L626.0,381.6L627.0,381.6L628.0,381.6L629.0,381.6L630.0,381.6L631.0,381.6L632.0,381.6L633.0,381.6L634.0,381.6L635.0,381.6L636.0,381.6L637.0,381.6L638.0,381.6L639.0,381.6L640.0,381.6L641.0,381.6L642.0,381.6L643.0,381.7L644.0,381.7L645.0,381.7L646.0,381.7L647.0,381.7L648.0,381.7L649.0,381.7L650.0,381.7L651.0,381.7L652.0,381.7L653.0,381.7L654.0,381.7L655.0,381.7L656.0,381.7L657.0,381.7L658.0,381.7L659.0,381.7L660.0,381.7L661.0,381.7L662.0,381.7L663.0,381.7L664.0,381.7L665.0,381.7L666.0,381.7L667.0,381.7L668.0,381.7L669.0,381.7L670.0,381.7L671.0,381.7L672.0,381.7L673.0,381.7L674.0,381.7L675.0,381.7L676.0,381.7L677.0,381.7L678.0,381.7L679.0,381.7L680.0,381.7L681.0,381.7L682.0,381.7L683.0,381.6L684.0,381.6L685.0,381.6L686.0,381.6L687.0,381.6L688.0,381.6L689.0,381.6L690.0,381.6L691.0,381.6L692.0,381.6L693.0,381.6"/><path d="M105.6,102.4L106.0,99.2L106.4,96.6L106.8,94.4L107.2,92.6L107.6,91.0L108.0,89.7L108.4,88.5L108.8,87.5L109.2,86.6L109.6,86.0L110.0,86.1L110.4,86.5L110.8,87.1L111.2,87.8L111.6,88.6L112.0,89.5L112.4,90.5L112.8,91.5L113.2,92.5L113.6,93.6L114.0,94.7L114.4,95.6L114.8,96.6L115.2,97.4L115.6,98.2L116.0,98.9L116.4,99.6L116.8,100.1L117.2,100.7L117.6,101.1L118.0,101.5L118.4,101.8L118.8,102.1L119.2,102.2L119.6,102.3L120.0,102.3L120.4,102.4L120.8,102.4L121.2,102.3L121.6,102.3L122.0,102.2L122.4,102.1L122.8,101.9L123.2,101.8L123.6,101.7L124.0,101.5L124.4,101.4L124.8,101.3L125.2,101.2L125.6,101.0L126.0,101.0L126.4,100.9L126.8,100.8L127.2,100.7L127.6,100.7L128.0,100.7L128.4,100.8L128.8,100.8L129.2,100.9L129.6,101.0L130.0,101.2L130.4,101.3L130.8,101.5L131.2,101.8L131.6,102.0L132.0,102.3L132.4,102.6L132.8,103.0L133.2,103.3L133.6,103.7L134.1,104.1L134.6,104.4L135.1,104.8L135.6,105.1L136.1,105.5L136.6,106.0L137.1,106.5L137.6,107.0L138.1,107.6L138.6,108.2L139.1,108.8L139.6,109.4L140.1,110.0L140.6,110.6L141.1,111.3L141.6,111.9L142.1,112.5L142.6,113.2L143.1,113.8L143.6,114.5L144.1,115.2L144.6,115.9L145.1,116.5L145.6,117.2L146.1,117.9L146.6,118.7L147.1,119.4L147.6,120.1L148.1,120.8L148.6,121.5L149.1,122.3L149.6,123.0L150.1,123.7L150.6,124.5L151.1,125.3L151.6,126.1L152.1,126.9L152.6,127.7L153.1,128.5L153.6,129.3L154.1,130.1L154.6,130.9L155.1,131.7L155.6,132.5L156.1,133.3L156.6,134.1L157.1,135.0L157.6,135.8L158.1,136.6L158.6,137.5L159.1,138.3L159.6,139.1L160.1,140.0L160.6,140.8L161.1,141.7L161.6,142.5L162.1,143.4L162.6,144.2L163.1,145.1L163.6,146.0L164.1,146.8L164.6,147.7L165.1,148.6L165.6,149.4L166.1,150.3L166.6,151.2L167.1,152.1L167.6,153.0L168.1,153.9L168.6,154.8L169.1,155.7L169.6,156.6L170.1,157.6L170.6,158.6L171.1,159.5L171.6,160.5L172.1,161.5L172.6,162.5L173.1,163.5L173.6,164.5L174.1,165.5L174.6,166.5L175.1,167.5L175.6,168.5L176.1,169.4L176.6,170.4L177.1,171.3L177.6,172.3L178.1,173.2L178.6,174.2L179.1,175.1L179.6,176.0L180.1,177.0L180.6,177.9L181.1,178.8L181.6,179.6L182.1,180.5L182.6,181.4L183.1,182.3L183.6,183.2L184.1,184.1L184.6,185.0L185.1,185.9L185.6,186.8L186.1,187.6L186.6,188.5L187.1,189.4L187.6,190.3L188.1,191.2L188.6,192.0L189.1,192.9L189.6,193.8L190.1,194.7L190.6,195.6L191.1,196.5L191.6,197.3L192.1,198.2L192.6,199.1L193.1,200.0L193.6,200.8L194.1,201.7L194.6,202.6L195.1,203.4L195.6,204.3L196.1,205.1L196.6,206.0L197.1,206.8L197.6,207.7L198.1,208.5L198.6,209.4L199.1,210.2L199.6,211.0L200.1,211.9L200.6,212.7L201.1,213.5L201.6,214.3L202.1,215.1L202.6,215.9L203.1,216.8L203.6,217.6L204.1,218.4L204.6,219.2L205.1,219.9L205.6,220.7L206.1,221.5L206.6,222.3L207.1,223.1L207.6,223.8L208.1,224.6L208.6,225.4L209.1,226.1L209.6,226.9L210.1,227.6L210.6,228.4L211.1,229.1L211.6,229.9L212.1,230.6L212.6,231.3L213.1,232.1L213.6,232.8L214.1,233.5L214.6,234.2L215.1,234.9L215.6,235.6L216.1,236.3L216.6,237.0L217.1,237.7L217.6,238.4L218.1,239.1L218.6,239.8L219.1,240.4L219.6,241.1L220.1,241.8L220.6,242.4L221.1,243.1L221.6,243.7L222.1,244.4L222.6,245.0L223.1,245.7L223.6,246.3L224.1,246.9L224.6,247.5L225.1,248.2L225.6,248.8L226.1,249.4L226.6,250.0L227.1,250.6L227.6,251.2L228.1,251.8L228.6,252.4L229.1,253.0L229.6,253.6L230.1,254.2L230.6,254.8L231.1,255.3L231.6,255.9L232.1,256.5L232.6,257.0L233.1,257.6L233.6,258.2L234.1,258.7L234.6,259.3L235.1,259.8L235.6,260.4L236.1,260.9L236.6,261.4L237.1,262.0L237.6,262.5L238.1,263.0L238.6,263.5L239.1,264.1L239.6,264.6L240.1,265.1L240.6,265.6L241.1,266.1L241.6,266.6L242.1,267.1L242.6,267.6L243.1,268.1L243.6,268.6L244.1,269.1L244.6,269.6L245.1,270.1L245.6,270.5L246.1,271.0L246.6,271.5L247.1,272.0L247.6,272.4L248.1,272.9L248.6,273.4L249.1,273.8L249.6,274.3L250.1,274.8L250.6,275.2L251.1,275.7L251.6,276.1L252.1,276.6L252.6,277.0L253.1,277.4L253.6,277.9L254.1,278.3L254.6,278.8L255.1,279.2L255.6,279.6L256.1,280.0L256.6,280.5L257.1,280.9L257.6,281.3L258.1,281.8L258.6,282.2L259.1,282.6L259.6,283.0L260.1,283.4L260.6,283.7L261.1,284.1L261.6,284.5L262.1,284.9L262.6,285.2L263.1,285.6L263.6,286.0L264.1,286.3L264.6,286.7L265.1,287.1L265.6,287.4L266.1,287.8L266.6,288.2L267.1,288.5L267.6,288.9L268.1,289.3L268.6,289.6L269.1,290.0L269.6,290.4L270.1,290.7L270.6,291.1L271.1,291.5L271.6,291.9L272.1,292.3L272.6,292.7L273.1,293.1L273.6,293.6L274.1,294.1L274.6,294.6L275.1,295.2L275.6,295.9L276.1,296.9L276.6,298.1L277.1,299.5L277.6,300.9L278.1,302.4L278.6,303.8L279.1,304.5L279.6,303.1L280.1,301.9L280.6,301.4L281.1,301.2L281.6,301.3L282.1,301.4L282.6,301.5L283.1,301.8L283.6,302.3L284.1,303.0L284.6,303.9L285.1,304.9L285.6,304.9L286.1,304.6L286.6,305.3L287.1,306.0L287.6,306.7L288.1,307.3L288.6,307.6L289.1,307.1L289.6,306.5L290.1,306.1L290.6,305.8L291.1,305.7L291.6,305.6L292.1,305.5L292.6,305.5L293.1,305.5L293.6,305.5L294.1,305.5L294.6,305.6L295.1,305.7L295.6,305.8L296.1,305.9L296.6,306.1L297.1,306.3L297.6,306.5L298.1,306.7L298.6,306.9L299.1,307.1L299.6,307.3L300.0,307.5L301.0,307.9L302.0,308.3L303.0,308.7L304.0,309.1L305.0,309.5L306.0,309.9L307.0,310.2L308.0,310.6L309.0,311.0L310.0,311.3L311.0,311.7L312.0,312.0L313.0,312.4L314.0,312.7L315.0,313.0L316.0,313.4L317.0,313.7L318.0,314.0L319.0,314.3L320.0,314.6L321.0,314.9L322.0,315.2L323.0,315.5L324.0,315.9L325.0,316.2L326.0,316.5L327.0,316.8L328.0,317.1L329.0,317.4L330.0,317.6L331.0,317.9L332.0,318.1L333.0,318.4L334.0,318.6L335.0,318.9L336.0,319.1L337.0,319.3L338.0,319.5L339.0,319.7L340.0,319.9L341.0,320.1L342.0,320.3L343.0,320.4L344.0,320.6L345.0,320.7L346.0,320.9L347.0,321.0L348.0,321.1L349.0,321.3L350.0,321.4L351.0,321.5L352.0,321.6L353.0,321.7L354.0,321.8L355.0,321.9L356.0,322.0L357.0,322.1L358.0,322.2L359.0,322.3L360.0,322.4L361.0,322.4L362.0,322.5L363.0,322.6L364.0,322.6L365.0,322.6L366.0,322.7L367.0,322.7L368.0,322.7L369.0,322.7L370.0,322.7L371.0,322.6L372.0,322.6L373.0,322.5L374.0,322.5L375.0,322.4L376.0,322.3L377.0,322.2L378.0,322.1L379.0,322.0L380.0,321.9L381.0,321.8L382.0,321.7L383.0,321.5L384.0,321.4L385.0,321.3L386.0,321.1L387.0,321.0L388.0,320.8L389.0,320.7L390.0,320.5L391.0,320.4L392.0,320.3L393.0,320.3L394.0,320.3L395.0,320.4L396.0,320.5L397.0,320.6L398.0,320.7L399.0,320.7L400.0,320.8L401.0,320.8L402.0,320.9L403.0,320.9L404.0,321.0L405.0,321.0L406.0,321.0L407.0,321.1L408.0,321.1L409.0,321.1L410.0,321.2L411.0,321.2L412.0,321.2L413.0,321.3L414.0,321.3L415.0,321.4L416.0,321.4L417.0,321.4L418.0,321.5L419.0,321.5L420.0,321.6L421.0,321.6L422.0,321.6L423.0,321.7L424.0,321.7L425.0,321.8L426.0,321.8L427.0,321.8L428.0,321.9L429.0,321.9L430.0,322.0L431.0,322.0L432.0,322.0L433.0,322.1L434.0,322.1L435.0,322.2L436.0,322.3L437.0,322.3L438.0,322.4L439.0,322.5L440.0,322.6L441.0,322.8L442.0,322.9L443.0,323.0L444.0,323.1L445.0,323.3L446.0,323.4L447.0,323.6L448.0,323.9L449.0,324.2L450.0,324.4L451.0,324.6L452.0,324.6L453.0,324.6L454.0,324.6L455.0,324.5L456.0,324.5L457.0,324.5L458.0,324.5L459.0,324.5L460.0,324.5L461.0,324.5L462.0,324.5L463.0,324.5L464.0,324.5L465.0,324.5L466.0,324.5L467.0,324.5L468.0,324.6L469.0,324.6L470.0,324.6L471.0,324.7L472.0,324.7L473.0,324.8L474.0,324.9L475.0,324.9L476.0,325.0L477.0,325.1L478.0,325.2L479.0,325.3L480.0,325.5L481.0,325.6L482.0,325.7L483.0,325.8L484.0,325.8L485.0,325.9L486.0,326.0L487.0,326.1L488.0,326.2L489.0,326.4L490.0,326.5L491.0,326.6L492.0,326.8L493.0,327.0L494.0,327.2L495.0,327.4L496.0,327.7L497.0,327.9L498.0,328.1L499.0,328.4L500.0,328.6L501.0,328.8L502.0,329.0L503.0,329.3L504.0,329.5L505.0,329.8L506.0,330.1L507.0,330.5L508.0,331.1L509.0,331.7L510.0,332.3L511.0,333.1L512.0,333.9L513.0,334.4L514.0,334.1L515.0,333.4L516.0,332.7L517.0,332.2L518.0,331.9L519.0,331.6L520.0,331.4L521.0,331.2L522.0,331.1L523.0,331.0L524.0,331.0L525.0,331.0L526.0,332.3L527.0,335.5L528.0,338.0L529.0,340.2L530.0,342.2L531.0,344.3L532.0,346.2L533.0,348.1L534.0,349.8L535.0,351.3L536.0,352.7L537.0,353.9L538.0,355.1L539.0,356.2L540.0,357.2L541.0,358.3L542.0,359.4L543.0,360.4L544.0,361.2L545.0,362.0L546.0,362.8L547.0,363.5L548.0,364.2L549.0,364.9L550.0,365.6L551.0,366.2L552.0,366.8L553.0,367.4L554.0,368.3L555.0,370.1L556.0,372.8L557.0,374.3L558.0,375.4L559.0,376.3L560.0,377.1L561.0,377.6L562.0,378.1L563.0,378.4L564.0,378.7L565.0,378.9L566.0,379.1L567.0,379.3L568.0,379.4L569.0,379.6L570.0,379.8L571.0,379.9L572.0,380.0L573.0,380.2L574.0,380.3L575.0,380.4L576.0,380.5L577.0,380.6L578.0,380.7L579.0,380.8L580.0,380.9L581.0,380.9L582.0,381.0L583.0,381.1L584.0,381.1L585.0,381.1L586.0,381.2L587.0,381.2L588.0,381.2L589.0,381.2L590.0,381.3L591.0,381.3L592.0,381.3L593.0,381.3L594.0,381.3L595.0,381.3L596.0,381.4L597.0,381.4L598.0,381.4L599.0,381.4L600.0,381.4L601.0,381.4L602.0,381.5L603.0,381.5L604.0,381.5L605.0,381.5L606.0,381.5L607.0,381.5L608.0,381.5L609.0,381.5L610.0,381.5L611.0,381.6L612.0,381.6L613.0,381.6L614.0,381.6L615.0,381.6L616.0,381.6L617.0,381.6L618.0,381.6L619.0,381.6L620.0,381.6L621.0,381.6L622.0,381.6L623.0,381.6L624.0,381.6L625.0,381.6L626.0,381.6L627.0,381.6L628.0,381.6L629.0,381.6L630.0,381.6L631.0,381.6L632.0,381.6L633.0,381.6L634.0,381.6L635.0,381.6L636.0,381.6L637.0,381.6L638.0,381.6L639.0,381.6L640.0,381.6L641.0,381.7L642.0,381.7L643.0,381.7L644.0,381.7L645.0,381.7L646.0,381.7L647.0,381.7L648.0,381.7L649.0,381.7L650.0,381.7L651.0,381.7L652.0,381.7L653.0,381.7L654.0,381.7L655.0,381.7L656.0,381.7L657.0,381.7L658.0,381.7L659.0,381.7L660.0,381.7L661.0,381.7L662.0,381.7L663.0,381.7L664.0,381.7L665.0,381.7L666.0,381.7L667.0,381.7L668.0,381.7L669.0,381.7L670.0,381.7L671.0,381.7L672.0,381.7L673.0,381.7L674.0,381.7L675.0,381.7L676.0,381.7L677.0,381.7L678.0,381.7L679.0,381.7L680.0,381.7L681.0,381.7L682.0,381.7L683.0,381.7L684.0,381.6L685.0,381.6L686.0,381.6L687.0,381.6L688.0,381.6L689.0,381.6L690.0,381.6L691.0,381.6L692.0,381.6L693.0,381.6"/><path d="M105.6,102.4L106.0,99.1L106.4,96.5L106.8,94.4L107.2,92.7L107.6,91.4L108.0,90.3L108.4,89.3L108.8,88.5L109.2,88.2L109.6,88.6L110.0,89.2L110.4,89.9L110.8,90.8L111.2,91.8L111.6,92.7L112.0,93.8L112.4,94.9L112.8,96.0L113.2,97.2L113.6,98.3L114.0,99.3L114.4,100.3L114.8,101.1L115.2,101.9L115.6,102.6L116.0,103.2L116.4,103.8L116.8,104.3L117.2,104.7L117.6,105.1L118.0,105.4L118.4,105.7L118.8,105.8L119.2,105.8L119.6,105.7L120.0,105.7L120.4,105.6L120.8,105.6L121.2,105.5L121.6,105.4L122.0,105.4L122.4,105.3L122.8,105.2L123.2,105.1L123.6,105.0L124.0,104.9L124.4,104.8L124.8,104.8L125.2,104.7L125.6,104.6L126.0,104.5L126.4,104.5L126.8,104.5L127.2,104.5L127.6,104.6L128.0,104.6L128.4,104.7L128.8,104.9L129.2,105.0L129.6,105.2L130.0,105.4L130.4,105.7L130.8,106.0L131.2,106.3L131.6,106.6L132.0,107.0L132.4,107.4L132.8,107.8L133.1,108.2L133.6,108.6L134.1,109.1L134.6,109.5L135.1,109.9L135.6,110.4L136.1,110.9L136.6,111.4L137.1,111.9L137.6,112.6L138.1,113.2L138.6,113.9L139.1,114.6L139.6,115.3L140.1,116.0L140.6,116.7L141.1,117.4L141.6,118.1L142.1,118.9L142.6,119.6L143.1,120.3L143.6,121.1L144.1,121.9L144.6,122.7L145.1,123.5L145.6,124.3L146.1,125.1L146.6,125.9L147.1,126.7L147.6,127.5L148.1,128.3L148.6,129.1L149.1,129.9L149.6,130.7L150.1,131.6L150.6,132.4L151.1,133.3L151.6,134.1L152.1,135.0L152.6,135.8L153.1,136.7L153.6,137.5L154.1,138.4L154.6,139.3L155.1,140.1L155.6,141.0L156.1,141.8L156.6,142.7L157.1,143.6L157.6,144.5L158.1,145.3L158.6,146.2L159.1,147.1L159.6,148.0L160.1,148.8L160.6,149.7L161.1,150.6L161.6,151.5L162.1,152.4L162.6,153.2L163.1,154.1L163.6,155.0L164.1,155.9L164.6,156.8L165.1,157.7L165.6,158.6L166.1,159.5L166.6,160.4L167.1,161.3L167.6,162.2L168.1,163.1L168.6,164.0L169.1,165.0L169.6,165.9L170.1,166.9L170.6,167.9L171.1,168.9L171.6,169.9L172.1,170.9L172.6,172.0L173.1,173.0L173.6,174.0L174.1,175.1L174.6,176.1L175.1,177.2L175.6,178.2L176.1,179.2L176.6,180.1L177.1,181.1L177.6,182.1L178.1,183.1L178.6,184.0L179.1,185.0L179.6,185.9L180.1,186.8L180.6,187.7L181.1,188.6L181.6,189.5L182.1,190.4L182.6,191.3L183.1,192.2L183.6,193.1L184.1,194.0L184.6,194.8L185.1,195.7L185.6,196.6L186.1,197.5L186.6,198.3L187.1,199.2L187.6,200.1L188.1,201.0L188.6,201.9L189.1,202.8L189.6,203.7L190.1,204.6L190.6,205.4L191.1,206.3L191.6,207.2L192.1,208.1L192.6,209.0L193.1,209.9L193.6,210.7L194.1,211.6L194.6,212.5L195.1,213.3L195.6,214.2L196.1,215.1L196.6,215.9L197.1,216.8L197.6,217.6L198.1,218.5L198.6,219.3L199.1,220.1L199.6,221.0L200.1,221.8L200.6,222.6L201.1,223.4L201.6,224.3L202.1,225.1L202.6,225.9L203.1,226.7L203.6,227.5L204.1,228.3L204.6,229.1L205.1,229.9L205.6,230.6L206.1,231.4L206.6,232.2L207.1,233.0L207.6,233.7L208.1,234.5L208.6,235.2L209.1,236.0L209.6,236.7L210.1,237.5L210.6,238.2L211.1,239.0L211.6,239.7L212.1,240.4L212.6,241.1L213.1,241.8L213.6,242.6L214.1,243.3L214.6,244.0L215.1,244.6L215.6,245.3L216.1,246.0L216.6,246.7L217.1,247.4L217.6,248.0L218.1,248.7L218.6,249.4L219.1,250.0L219.6,250.7L220.1,251.3L220.6,251.9L221.1,252.6L221.6,253.2L222.1,253.8L222.6,254.4L223.1,255.0L223.6,255.7L224.1,256.3L224.6,256.9L225.1,257.4L225.6,258.0L226.1,258.6L226.6,259.2L227.1,259.8L227.6,260.4L228.1,261.0L228.6,261.5L229.1,262.1L229.6,262.7L230.1,263.2L230.6,263.8L231.1,264.3L231.6,264.9L232.1,265.4L232.6,266.0L233.1,266.5L233.6,267.0L234.1,267.6L234.6,268.1L235.1,268.6L235.6,269.1L236.1,269.7L236.6,270.2L237.1,270.7L237.6,271.2L238.1,271.7L238.6,272.2L239.1,272.7L239.6,273.2L240.1,273.6L240.6,274.1L241.1,274.6L241.6,275.1L242.1,275.6L242.6,276.0L243.1,276.5L243.6,277.0L244.1,277.4L244.6,277.9L245.1,278.4L245.6,278.8L246.1,279.3L246.6,279.7L247.1,280.2L247.6,280.6L248.1,281.1L248.6,281.5L249.1,281.9L249.6,282.4L250.1,282.8L250.6,283.2L251.1,283.7L251.6,284.1L252.1,284.5L252.6,285.0L253.1,285.4L253.6,285.8L254.1,286.2L254.6,286.6L255.1,287.0L255.6,287.5L256.1,287.9L256.6,288.3L257.1,288.7L257.6,289.1L258.1,289.5L258.6,289.9L259.1,290.3L259.6,290.7L260.1,291.1L260.6,291.4L261.1,291.8L261.6,292.2L262.1,292.5L262.6,292.9L263.1,293.3L263.6,293.6L264.1,294.0L264.6,294.4L265.1,294.7L265.6,295.1L266.1,295.5L266.6,295.8L267.1,296.2L267.6,296.5L268.1,296.9L268.6,297.2L269.1,297.6L269.6,297.9L270.1,298.3L270.6,298.7L271.1,299.0L271.6,299.4L272.1,299.8L272.6,300.1L273.1,300.5L273.6,300.9L274.1,301.3L274.6,301.8L275.1,302.2L275.6,302.8L276.1,303.5L276.6,304.3L277.1,305.2L277.6,306.1L278.1,307.1L278.6,308.0L279.1,308.5L279.6,307.9L280.1,307.4L280.6,307.2L281.1,307.2L281.6,307.4L282.1,307.6L282.6,307.8L283.1,308.0L283.6,308.4L284.1,309.0L284.6,309.6L285.1,310.2L285.6,310.4L286.1,310.4L286.6,310.9L287.1,311.4L287.6,311.9L288.1,312.3L288.6,312.6L289.1,312.4L289.6,312.2L290.1,312.1L290.6,312.1L291.1,312.1L291.6,312.1L292.1,312.2L292.6,312.3L293.1,312.4L293.6,312.5L294.1,312.6L294.6,312.8L295.1,312.9L295.6,313.1L296.1,313.3L296.6,313.5L297.1,313.7L297.6,313.9L298.1,314.1L298.6,314.3L299.1,314.5L299.6,314.7L300.0,314.9L301.0,315.3L302.0,315.7L303.0,316.1L304.0,316.4L305.0,316.8L306.0,317.2L307.0,317.6L308.0,317.9L309.0,318.3L310.0,318.6L311.0,318.9L312.0,319.2L313.0,319.6L314.0,319.9L315.0,320.2L316.0,320.4L317.0,320.7L318.0,321.0L319.0,321.2L320.0,321.5L321.0,321.8L322.0,322.1L323.0,322.5L324.0,322.8L325.0,323.1L326.0,323.4L327.0,323.7L328.0,324.0L329.0,324.2L330.0,324.5L331.0,324.7L332.0,325.0L333.0,325.2L334.0,325.4L335.0,325.6L336.0,325.8L337.0,326.0L338.0,326.2L339.0,326.4L340.0,326.5L341.0,326.7L342.0,326.8L343.0,327.0L344.0,327.1L345.0,327.2L346.0,327.4L347.0,327.5L348.0,327.6L349.0,327.7L350.0,327.8L351.0,327.9L352.0,328.0L353.0,328.1L354.0,328.2L355.0,328.3L356.0,328.3L357.0,328.4L358.0,328.5L359.0,328.6L360.0,328.6L361.0,328.7L362.0,328.7L363.0,328.8L364.0,328.8L365.0,328.9L366.0,328.9L367.0,328.9L368.0,328.9L369.0,328.9L370.0,328.9L371.0,328.9L372.0,328.8L373.0,328.8L374.0,328.7L375.0,328.6L376.0,328.5L377.0,328.5L378.0,328.4L379.0,328.3L380.0,328.2L381.0,328.0L382.0,327.9L383.0,327.8L384.0,327.7L385.0,327.6L386.0,327.4L387.0,327.3L388.0,327.2L389.0,327.0L390.0,326.9L391.0,326.8L392.0,326.7L393.0,326.6L394.0,326.7L395.0,326.8L396.0,326.9L397.0,327.0L398.0,327.1L399.0,327.2L400.0,327.2L401.0,327.3L402.0,327.3L403.0,327.4L404.0,327.4L405.0,327.5L406.0,327.5L407.0,327.5L408.0,327.6L409.0,327.6L410.0,327.6L411.0,327.7L412.0,327.7L413.0,327.8L414.0,327.8L415.0,327.8L416.0,327.9L417.0,327.9L418.0,328.0L419.0,328.0L420.0,328.0L421.0,328.1L422.0,328.1L423.0,328.2L424.0,328.2L425.0,328.2L426.0,328.3L427.0,328.3L428.0,328.4L429.0,328.4L430.0,328.4L431.0,328.5L432.0,328.5L433.0,328.6L434.0,328.6L435.0,328.7L436.0,328.7L437.0,328.8L438.0,328.9L439.0,328.9L440.0,329.0L441.0,329.1L442.0,329.2L443.0,329.3L444.0,329.4L445.0,329.5L446.0,329.6L447.0,329.7L448.0,329.9L449.0,330.1L450.0,330.2L451.0,330.3L452.0,330.4L453.0,330.4L454.0,330.4L455.0,330.4L456.0,330.4L457.0,330.5L458.0,330.5L459.0,330.5L460.0,330.6L461.0,330.6L462.0,330.6L463.0,330.7L464.0,330.7L465.0,330.8L466.0,330.8L467.0,330.9L468.0,330.9L469.0,331.0L470.0,331.0L471.0,331.1L472.0,331.1L473.0,331.2L474.0,331.3L475.0,331.4L476.0,331.5L477.0,331.6L478.0,331.7L479.0,331.8L480.0,331.9L481.0,331.9L482.0,332.0L483.0,332.1L484.0,332.2L485.0,332.3L486.0,332.3L487.0,332.4L488.0,332.5L489.0,332.6L490.0,332.7L491.0,332.8L492.0,333.0L493.0,333.1L494.0,333.3L495.0,333.4L496.0,333.6L497.0,333.8L498.0,333.9L499.0,334.1L500.0,334.3L501.0,334.5L502.0,334.6L503.0,334.8L504.0,335.0L505.0,335.2L506.0,335.4L507.0,335.7L508.0,336.1L509.0,336.4L510.0,336.8L511.0,337.3L512.0,337.8L513.0,338.1L514.0,338.0L515.0,337.6L516.0,337.2L517.0,337.0L518.0,336.9L519.0,336.7L520.0,336.6L521.0,336.6L522.0,336.6L523.0,336.6L524.0,336.6L525.0,336.7L526.0,337.9L527.0,340.7L528.0,343.1L529.0,345.1L530.0,347.1L531.0,349.0L532.0,350.8L533.0,352.4L534.0,354.0L535.0,355.3L536.0,356.6L537.0,357.7L538.0,358.8L539.0,359.8L540.0,360.7L541.0,361.6L542.0,362.5L543.0,363.3L544.0,364.1L545.0,364.7L546.0,365.4L547.0,366.1L548.0,366.7L549.0,367.3L550.0,367.9L551.0,368.4L552.0,368.9L553.0,369.4L554.0,370.2L555.0,371.8L556.0,373.9L557.0,375.4L558.0,376.4L559.0,377.2L560.0,377.8L561.0,378.2L562.0,378.6L563.0,378.9L564.0,379.1L565.0,379.3L566.0,379.5L567.0,379.7L568.0,379.9L569.0,380.0L570.0,380.1L571.0,380.2L572.0,380.4L573.0,380.5L574.0,380.6L575.0,380.7L576.0,380.7L577.0,380.8L578.0,380.9L579.0,380.9L580.0,381.0L581.0,381.0L582.0,381.1L583.0,381.1L584.0,381.1L585.0,381.2L586.0,381.2L587.0,381.2L588.0,381.2L589.0,381.2L590.0,381.3L591.0,381.3L592.0,381.3L593.0,381.3L594.0,381.3L595.0,381.3L596.0,381.4L597.0,381.4L598.0,381.4L599.0,381.4L600.0,381.4L601.0,381.4L602.0,381.5L603.0,381.5L604.0,381.5L605.0,381.5L606.0,381.5L607.0,381.5L608.0,381.5L609.0,381.5L610.0,381.5L611.0,381.5L612.0,381.6L613.0,381.6L614.0,381.6L615.0,381.6L616.0,381.6L617.0,381.6L618.0,381.6L619.0,381.6L620.0,381.6L621.0,381.6L622.0,381.6L623.0,381.6L624.0,381.6L625.0,381.6L626.0,381.6L627.0,381.6L628.0,381.6L629.0,381.6L630.0,381.6L631.0,381.6L632.0,381.6L633.0,381.6L634.0,381.6L635.0,381.6L636.0,381.6L637.0,381.6L638.0,381.6L639.0,381.7L640.0,381.7L641.0,381.7L642.0,381.7L643.0,381.7L644.0,381.7L645.0,381.7L646.0,381.7L647.0,381.7L648.0,381.7L649.0,381.7L650.0,381.7L651.0,381.7L652.0,381.7L653.0,381.7L654.0,381.7L655.0,381.7L656.0,381.7L657.0,381.7L658.0,381.7L659.0,381.7L660.0,381.7L661.0,381.7L662.0,381.7L663.0,381.7L664.0,381.7L665.0,381.7L666.0,381.7L667.0,381.7L668.0,381.7L669.0,381.7L670.0,381.7L671.0,381.7L672.0,381.7L673.0,381.7L674.0,381.7L675.0,381.7L676.0,381.7L677.0,381.7L678.0,381.7L679.0,381.7L680.0,381.7L681.0,381.7L682.0,381.7L683.0,381.7L684.0,381.6L685.0,381.6L686.0,381.6L687.0,381.6L688.0,381.6L689.0,381.6L690.0,381.6L691.0,381.6L692.0,381.6L693.0,381.6"/>
</g>
<path d="M105.6,92.0L106.1,89.4L106.6,87.2L107.1,85.8L107.6,84.7L108.1,83.8L108.6,83.0L109.1,82.4L109.6,81.8L110.1,81.3L110.6,81.2L111.1,81.4L111.6,82.0L112.1,82.7L112.6,83.7L113.1,84.9L113.6,86.1L114.1,87.2L114.6,88.1L115.1,89.1L115.6,89.9L116.1,90.7L116.6,91.5L117.1,92.1L117.6,92.7L118.1,93.2L118.6,93.6L119.1,93.8L119.6,94.1L120.1,94.2L120.6,94.2L121.1,94.2L121.6,94.1L122.1,94.0L122.6,93.7L123.1,93.5L123.6,93.2L124.1,92.9L124.6,92.7L125.1,92.4L125.6,92.1L126.1,91.8L126.6,91.5L127.1,91.3L127.6,91.1L128.1,91.0L128.6,90.9L129.1,90.8L129.6,90.7L130.1,90.7L130.6,90.8L131.1,90.9L131.6,91.0L132.1,91.2L132.6,91.4L133.1,91.6L133.6,91.8L134.1,92.0L134.6,92.2L135.1,92.4L135.6,92.5L136.1,92.8L136.6,93.0L137.1,93.4L137.6,93.8L138.1,94.2L138.6,94.6L139.1,95.1L139.6,95.5L140.1,96.0L140.6,96.4L141.1,96.9L141.6,97.3L142.1,97.8L142.6,98.3L143.1,98.7L143.6,99.2L144.1,99.7L144.6,100.2L145.1,100.7L145.6,101.2L146.1,101.7L146.6,102.3L147.1,102.8L147.6,103.3L148.1,103.9L148.6,104.5L149.1,105.0L149.6,105.6L150.1,106.2L150.6,106.8L151.1,107.4L151.6,108.0L152.1,108.6L152.6,109.2L153.1,109.8L153.6,110.4L154.1,111.1L154.6,111.7L155.1,112.4L155.6,113.0L156.1,113.7L156.6,114.4L157.1,115.1L157.6,115.7L158.1,116.4L158.6,117.1L159.1,117.8L159.6,118.6L160.1,119.3L160.6,120.0L161.1,120.7L161.6,121.5L162.1,122.2L162.6,123.0L163.1,123.7L163.6,124.5L164.1,125.3L164.6,126.0L165.1,126.8L165.6,127.6L166.1,128.4L166.6,129.2L167.1,130.0L167.6,130.8L168.1,131.7L168.6,132.5L169.1,133.3L169.6,134.1L170.1,135.0L170.6,135.8L171.1,136.7L171.6,137.5L172.1,138.4L172.6,139.2L173.1,140.1L173.6,141.0L174.1,141.8L174.6,142.7L175.1,143.6L175.6,144.4L176.1,145.3L176.6,146.2L177.1,147.1L177.6,148.0L178.1,148.9L178.6,149.7L179.1,150.6L179.6,151.5L180.1,152.4L180.6,153.3L181.1,154.2L181.6,155.1L182.1,155.9L182.6,156.8L183.1,157.7L183.6,158.6L184.1,159.5L184.6,160.4L185.1,161.2L185.6,162.1L186.1,163.0L186.6,163.9L187.1,164.8L187.6,165.6L188.1,166.5L188.6,167.4L189.1,168.2L189.6,169.1L190.1,169.9L190.6,170.8L191.1,171.7L191.6,172.5L192.1,173.4L192.6,174.2L193.1,175.1L193.6,175.9L194.1,176.7L194.6,177.6L195.1,178.4L195.6,179.3L196.1,180.1L196.6,180.9L197.1,181.7L197.6,182.6L198.1,183.4L198.6,184.2L199.1,185.0L199.6,185.9L200.1,186.7L200.6,187.5L201.1,188.3L201.6,189.1L202.1,189.9L202.6,190.7L203.1,191.5L203.6,192.3L204.1,193.1L204.6,193.9L205.1,194.7L205.6,195.5L206.1,196.2L206.6,197.0L207.1,197.8L207.6,198.6L208.1,199.3L208.6,200.1L209.1,200.9L209.6,201.7L210.1,202.4L210.6,203.2L211.1,203.9L211.6,204.7L212.1,205.4L212.6,206.2L213.1,206.9L213.6,207.7L214.1,208.4L214.6,209.2L215.1,209.9L215.6,210.6L216.1,211.4L216.6,212.1L217.1,212.8L217.6,213.5L218.1,214.3L218.6,215.0L219.1,215.7L219.6,216.4L220.1,217.1L220.6,217.8L221.1,218.5L221.6,219.2L222.1,219.9L222.6,220.6L223.1,221.3L223.6,222.0L224.1,222.7L224.6,223.4L225.1,224.0L225.6,224.7L226.1,225.4L226.6,226.1L227.1,226.7L227.6,227.4L228.1,228.1L228.6,228.7L229.1,229.4L229.6,230.0L230.1,230.7L230.6,231.3L231.1,232.0L231.6,232.6L232.1,233.2L232.6,233.9L233.1,234.5L233.6,235.1L234.1,235.8L234.6,236.4L235.1,237.0L235.6,237.6L236.1,238.2L236.6,238.8L237.1,239.4L237.6,240.0L238.1,240.6L238.6,241.2L239.1,241.8L239.6,242.4L240.1,243.0L240.6,243.6L241.1,244.2L241.6,244.7L242.1,245.3L242.6,245.9L243.1,246.4L243.6,247.0L244.1,247.6L244.6,248.1L245.1,248.7L245.6,249.2L246.1,249.8L246.6,250.3L247.1,250.9L247.6,251.4L248.1,251.9L248.6,252.5L249.1,253.0L249.6,253.5L250.1,254.0L250.6,254.5L251.1,255.0L251.6,255.5L252.1,256.1L252.6,256.6L253.1,257.0L253.6,257.5L254.1,258.0L254.6,258.5L255.1,259.0L255.6,259.5L256.1,260.0L256.6,260.4L257.1,260.9L257.6,261.4L258.1,261.9L258.6,262.3L259.1,262.8L259.6,263.2L260.1,263.6L260.6,264.0L261.1,264.4L261.6,264.8L262.1,265.2L262.6,265.6L263.1,265.9L263.6,266.3L264.1,266.7L264.6,267.1L265.1,267.5L265.6,267.9L266.1,268.3L266.6,268.7L267.1,269.1L267.6,269.4L268.1,269.8L268.6,270.2L269.1,270.6L269.6,271.0L270.1,271.4L270.6,271.8L271.1,272.3L271.6,272.8L272.1,273.2L272.6,273.7L273.1,274.3L273.6,274.9L274.1,275.6L274.6,276.3L275.1,277.2L275.6,278.4L276.1,280.1L276.6,282.3L277.1,284.9L277.6,287.6L278.1,290.4L278.6,293.2L279.1,294.2L279.6,290.9L280.1,288.2L280.6,286.6L281.1,286.0L281.6,285.8L282.1,285.8L282.6,285.7L283.1,285.9L283.6,286.6L284.1,287.9L284.6,289.5L285.1,291.2L285.6,291.1L286.1,290.1L286.6,291.3L287.1,292.5L287.6,293.7L288.1,294.7L288.6,294.9L289.1,293.6L289.6,292.0L290.1,291.0L290.6,290.1L291.1,289.5L291.6,289.0L292.1,288.6L292.6,288.2L293.1,287.9L293.6,287.7L294.1,287.5L294.6,287.3L295.1,287.3L295.6,287.3L296.1,287.4L296.6,287.5L297.1,287.6L297.6,287.8L298.1,288.0L298.6,288.2L299.1,288.4L299.6,288.6L300.0,288.8L301.0,289.2L302.0,289.6L303.0,290.1L304.0,290.5L305.0,290.9L306.0,291.3L307.0,291.7L308.0,292.2L309.0,292.6L310.0,293.0L311.0,293.4L312.0,293.8L313.0,294.2L314.0,294.6L315.0,295.0L316.0,295.4L317.0,295.8L318.0,296.2L319.0,296.6L320.0,297.0L321.0,297.4L322.0,297.7L323.0,298.1L324.0,298.4L325.0,298.7L326.0,299.0L327.0,299.4L328.0,299.7L329.0,300.0L330.0,300.3L331.0,300.6L332.0,300.9L333.0,301.2L334.0,301.5L335.0,301.8L336.0,302.1L337.0,302.4L338.0,302.7L339.0,302.9L340.0,303.2L341.0,303.4L342.0,303.7L343.0,303.9L344.0,304.1L345.0,304.3L346.0,304.5L347.0,304.6L348.0,304.8L349.0,305.0L350.0,305.1L351.0,305.3L352.0,305.4L353.0,305.6L354.0,305.7L355.0,305.8L356.0,306.0L357.0,306.1L358.0,306.3L359.0,306.4L360.0,306.5L361.0,306.6L362.0,306.7L363.0,306.8L364.0,306.9L365.0,307.0L366.0,307.0L367.0,307.0L368.0,307.0L369.0,307.0L370.0,306.9L371.0,306.9L372.0,306.8L373.0,306.8L374.0,306.7L375.0,306.6L376.0,306.5L377.0,306.4L378.0,306.3L379.0,306.2L380.0,306.1L381.0,305.9L382.0,305.8L383.0,305.7L384.0,305.6L385.0,305.4L386.0,305.2L387.0,305.0L388.0,304.8L389.0,304.7L390.0,304.5L391.0,304.4L392.0,304.3L393.0,304.3L394.0,304.3L395.0,304.3L396.0,304.4L397.0,304.4L398.0,304.4L399.0,304.5L400.0,304.5L401.0,304.5L402.0,304.6L403.0,304.6L404.0,304.6L405.0,304.7L406.0,304.7L407.0,304.7L408.0,304.8L409.0,304.8L410.0,304.8L411.0,304.9L412.0,304.9L413.0,305.0L414.0,305.0L415.0,305.0L416.0,305.1L417.0,305.1L418.0,305.1L419.0,305.2L420.0,305.2L421.0,305.2L422.0,305.3L423.0,305.3L424.0,305.4L425.0,305.4L426.0,305.4L427.0,305.5L428.0,305.5L429.0,305.5L430.0,305.6L431.0,305.6L432.0,305.7L433.0,305.7L434.0,305.8L435.0,305.8L436.0,305.9L437.0,306.1L438.0,306.2L439.0,306.4L440.0,306.6L441.0,306.7L442.0,306.9L443.0,307.1L444.0,307.3L445.0,307.6L446.0,307.8L447.0,308.2L448.0,308.7L449.0,309.2L450.0,309.7L451.0,310.0L452.0,310.0L453.0,309.9L454.0,309.8L455.0,309.6L456.0,309.5L457.0,309.4L458.0,309.3L459.0,309.3L460.0,309.2L461.0,309.1L462.0,309.0L463.0,308.9L464.0,308.8L465.0,308.8L466.0,308.7L467.0,308.6L468.0,308.6L469.0,308.5L470.0,308.5L471.0,308.5L472.0,308.5L473.0,308.5L474.0,308.6L475.0,308.7L476.0,308.8L477.0,308.9L478.0,309.0L479.0,309.2L480.0,309.3L481.0,309.4L482.0,309.6L483.0,309.7L484.0,309.8L485.0,309.9L486.0,310.1L487.0,310.2L488.0,310.4L489.0,310.6L490.0,310.8L491.0,311.0L492.0,311.3L493.0,311.6L494.0,312.0L495.0,312.3L496.0,312.7L497.0,313.1L498.0,313.5L499.0,313.8L500.0,314.2L501.0,314.6L502.0,314.9L503.0,315.3L504.0,315.7L505.0,316.1L506.0,316.7L507.0,317.5L508.0,318.6L509.0,319.8L510.0,320.9L511.0,322.5L512.0,324.1L513.0,325.0L514.0,324.4L515.0,322.8L516.0,321.1L517.0,320.2L518.0,319.3L519.0,318.6L520.0,318.1L521.0,317.7L522.0,317.4L523.0,317.0L524.0,316.8L525.0,316.7L526.0,318.0L527.0,322.4L528.0,325.4L529.0,327.7L530.0,330.0L531.0,332.4L532.0,334.7L533.0,337.1L534.0,339.3L535.0,341.2L536.0,342.9L537.0,344.4L538.0,345.7L539.0,347.1L540.0,348.5L541.0,350.0L542.0,351.5L543.0,352.9L544.0,354.1L545.0,355.1L546.0,356.1L547.0,357.0L548.0,357.9L549.0,358.8L550.0,359.8L551.0,360.7L552.0,361.5L553.0,362.4L554.0,363.5L555.0,366.0L556.0,370.0L557.0,371.7L558.0,373.0L559.0,374.2L560.0,375.3L561.0,376.1L562.0,376.8L563.0,377.3L564.0,377.6L565.0,377.8L566.0,378.0L567.0,378.2L568.0,378.4L569.0,378.6L570.0,378.8L571.0,379.0L572.0,379.2L573.0,379.4L574.0,379.6L575.0,379.8L576.0,380.0L577.0,380.2L578.0,380.4L579.0,380.5L580.0,380.6L581.0,380.8L582.0,380.9L583.0,381.0L584.0,381.0L585.0,381.1L586.0,381.1L587.0,381.2L588.0,381.2L589.0,381.2L590.0,381.2L591.0,381.3L592.0,381.3L593.0,381.3L594.0,381.3L595.0,381.3L596.0,381.4L597.0,381.4L598.0,381.4L599.0,381.4L600.0,381.4L601.0,381.4L602.0,381.5L603.0,381.5L604.0,381.5L605.0,381.5L606.0,381.5L607.0,381.5L608.0,381.5L609.0,381.5L610.0,381.5L611.0,381.6L612.0,381.6L613.0,381.6L614.0,381.6L615.0,381.6L616.0,381.6L617.0,381.6L618.0,381.6L619.0,381.6L620.0,381.6L621.0,381.6L622.0,381.6L623.0,381.6L624.0,381.6L625.0,381.6L626.0,381.6L627.0,381.6L628.0,381.6L629.0,381.6L630.0,381.6L631.0,381.6L632.0,381.6L633.0,381.6L634.0,381.6L635.0,381.6L636.0,381.6L637.0,381.6L638.0,381.6L639.0,381.6L640.0,381.6L641.0,381.6L642.0,381.6L643.0,381.6L644.0,381.6L645.0,381.7L646.0,381.7L647.0,381.7L648.0,381.7L649.0,381.7L650.0,381.7L651.0,381.7L652.0,381.7L653.0,381.7L654.0,381.7L655.0,381.7L656.0,381.7L657.0,381.7L658.0,381.7L659.0,381.7L660.0,381.7L661.0,381.7L662.0,381.7L663.0,381.7L664.0,381.7L665.0,381.7L666.0,381.7L667.0,381.7L668.0,381.7L669.0,381.7L670.0,381.7L671.0,381.7L672.0,381.7L673.0,381.7L674.0,381.7L675.0,381.7L676.0,381.7L677.0,381.7L678.0,381.7L679.0,381.7L680.0,381.7L681.0,381.7L682.0,381.7L683.0,381.6L684.0,381.6L685.0,381.6L686.0,381.6L687.0,381.6L688.0,381.6L689.0,381.6L690.0,381.6L691.0,381.6L692.0,381.6L693.0,381.6" stroke="#000" stroke-width="1.85"/>
<path d="M104.0,92.3L104.5,91.5L105.0,90.8L105.5,90.3L106.0,89.9L106.5,89.6L107.0,89.5L107.5,89.5L108.0,89.8L108.5,90.4L109.0,91.5L109.5,92.8L110.0,94.2L110.5,95.6L111.0,97.1L111.5,98.6L112.0,100.0L112.5,101.4L113.0,102.8L113.5,104.2L114.0,105.5L114.5,106.7L115.0,107.5L115.5,108.2L116.0,108.7L116.5,109.1L117.0,109.4L117.5,109.7L118.0,110.0L118.5,110.1L119.0,110.2L119.5,110.2L120.0,110.2L120.5,110.3L121.0,110.3L121.5,110.3L122.0,110.3L122.5,110.3L123.0,110.3L123.5,110.3L124.0,110.3L124.5,110.3L125.0,110.3L125.5,110.4L126.0,110.5L126.5,110.7L127.0,110.9L127.5,111.1L128.0,111.4L128.5,111.7L129.0,112.1L129.5,112.5L130.0,113.0L130.5,113.6L131.0,114.2L131.5,114.8L132.0,115.3L132.5,115.9L133.0,116.5L133.5,117.0L134.0,117.6L134.5,118.1L135.0,118.7L135.5,119.2L136.0,119.8L136.5,120.4L137.0,121.1L137.5,121.8L138.0,122.5L138.5,123.3L139.0,124.0L139.5,124.8L140.0,125.7L140.5,126.5L141.0,127.3L141.5,128.1L142.0,129.0L142.5,129.8L143.0,130.7L143.5,131.5L144.0,132.4L144.5,133.3L145.0,134.2L145.5,135.1L146.0,136.1L146.5,137.0L147.0,137.9L147.5,138.8L148.0,139.7L148.5,140.6L149.0,141.5L149.5,142.4L150.0,143.3L150.5,144.2L151.0,145.1L151.5,146.1L152.0,147.0L152.5,147.9L153.0,148.8L153.5,149.7L154.0,150.6L154.5,151.5L155.0,152.4L155.5,153.3L156.0,154.2L156.5,155.1L157.0,156.0L157.5,156.9L158.0,157.8L158.5,158.7L159.0,159.5L159.5,160.4L160.0,161.3L160.5,162.2L161.0,163.1L161.5,164.0L162.0,164.8L162.5,165.7L163.0,166.6L163.5,167.5L164.0,168.4L164.5,169.2L165.0,170.1L165.5,171.0L166.0,171.9L166.5,172.7L167.0,173.6L167.5,174.5L168.0,175.4L168.5,176.3L169.0,177.2L169.5,178.1L170.0,179.1L170.5,180.1L171.0,181.1L171.5,182.1L172.0,183.1L172.5,184.1L173.0,185.2L173.5,186.2L174.0,187.3L174.5,188.4L175.0,189.4L175.5,190.4L176.0,191.5L176.5,192.5L177.0,193.5L177.5,194.5L178.0,195.6L178.5,196.6L179.0,197.5L179.5,198.5L180.0,199.4L180.5,200.4L181.0,201.3L181.5,202.2L182.0,203.1L182.5,204.0L183.0,204.9L183.5,205.8L184.0,206.6L184.5,207.5L185.0,208.4L185.5,209.3L186.0,210.2L186.5,211.1L187.0,212.0L187.5,212.8L188.0,213.7L188.5,214.6L189.0,215.5L189.5,216.4L190.0,217.4L190.5,218.3L191.0,219.2L191.5,220.1L192.0,221.0L192.5,221.9L193.0,222.8L193.5,223.7L194.0,224.6L194.5,225.5L195.0,226.3L195.5,227.2L196.0,228.1L196.5,229.0L197.0,229.8L197.5,230.7L198.0,231.6L198.5,232.4L199.0,233.3L199.5,234.1L200.0,235.0L200.5,235.8L201.0,236.6L201.5,237.5L202.0,238.3L202.5,239.1L203.0,239.9L203.5,240.7L204.0,241.5L204.5,242.3L205.0,243.1L205.5,243.9L206.0,244.7L206.5,245.5L207.0,246.2L207.5,247.0L208.0,247.8L208.5,248.5L209.0,249.3L209.5,250.0L210.0,250.8L210.5,251.5L211.0,252.2L211.5,253.0L212.0,253.7L212.5,254.4L213.0,255.1L213.5,255.8L214.0,256.5L214.5,257.2L215.0,257.9L215.5,258.6L216.0,259.2L216.5,259.9L217.0,260.6L217.5,261.2L218.0,261.9L218.5,262.5L219.0,263.1L219.5,263.8L220.0,264.4L220.5,265.0L221.0,265.6L221.5,266.2L222.0,266.8L222.5,267.4L223.0,268.0L223.5,268.6L224.0,269.2L224.5,269.7L225.0,270.3L225.5,270.9L226.0,271.4L226.5,272.0L227.0,272.5L227.5,273.1L228.0,273.6L228.5,274.1L229.0,274.7L229.5,275.2L230.0,275.7L230.5,276.2L231.0,276.7L231.5,277.2L232.0,277.7L232.5,278.2L233.0,278.7L233.5,279.2L234.0,279.7L234.5,280.2L235.0,280.7L235.5,281.1L236.0,281.6L236.5,282.1L237.0,282.5L237.5,283.0L238.0,283.4L238.5,283.9L239.0,284.4L239.5,284.8L240.0,285.2L240.5,285.7L241.0,286.1L241.5,286.5L242.0,287.0L242.5,287.4L243.0,287.8L243.5,288.3L244.0,288.7L244.5,289.1L245.0,289.5L245.5,289.9L246.0,290.3L246.5,290.7L247.0,291.2L247.5,291.6L248.0,292.0L248.5,292.4L249.0,292.8L249.5,293.2L250.0,293.6L250.5,294.0L251.0,294.3L251.5,294.7L252.0,295.1L252.5,295.5L253.0,295.9L253.5,296.3L254.0,296.7L254.5,297.1L255.0,297.4L255.5,297.8L256.0,298.2L256.5,298.6L257.0,298.9L257.5,299.3L258.0,299.7L258.5,300.0L259.0,300.4L259.5,300.8L260.0,301.1L260.5,301.5L261.0,301.9L261.5,302.2L262.0,302.6L262.5,302.9L263.0,303.3L263.5,303.6L264.0,304.0L264.5,304.3L265.0,304.7L265.5,305.0L266.0,305.4L266.5,305.7L267.0,306.1L267.5,306.4L268.0,306.7L268.5,307.1L269.0,307.4L269.5,307.7L270.0,308.1L270.5,308.4L271.0,308.7L271.5,309.0L272.0,309.3L272.5,309.7L273.0,310.0L273.5,310.3L274.0,310.6L274.5,310.9L275.0,311.2L275.5,311.5L276.0,311.8L276.5,312.1L277.0,312.4L277.5,312.7L278.0,313.0L278.5,313.3L279.0,313.6L279.5,313.9L280.0,314.2L280.5,314.5L281.0,314.8L281.5,315.1L282.0,315.3L282.5,315.6L283.0,315.9L283.5,316.2L284.0,316.5L284.5,316.7L285.0,317.0L285.5,317.3L286.0,317.5L286.5,317.8L287.0,318.0L287.5,318.3L288.0,318.6L288.5,318.8L289.0,319.1L289.5,319.3L290.0,319.6L290.5,319.8L291.0,320.1L291.5,320.3L292.0,320.5L292.5,320.8L293.0,321.0L293.5,321.2L294.0,321.5L294.5,321.7L295.0,321.9L295.5,322.1L296.0,322.4L296.5,322.6L297.0,322.8L297.5,323.0L298.0,323.2L298.5,323.4L299.0,323.6L299.5,323.8L300.0,324.0L301.0,324.4L302.0,324.8L303.0,325.2L304.0,325.6L305.0,325.9L306.0,326.3L307.0,326.6L308.0,326.9L309.0,327.3L310.0,327.6L311.0,327.9L312.0,328.2L313.0,328.4L314.0,328.7L315.0,329.0L316.0,329.2L317.0,329.5L318.0,329.7L319.0,329.9L320.0,330.1L321.0,330.4L322.0,330.7L323.0,331.0L324.0,331.4L325.0,331.7L326.0,332.0L327.0,332.3L328.0,332.5L329.0,332.8L330.0,333.0L331.0,333.2L332.0,333.4L333.0,333.6L334.0,333.8L335.0,334.0L336.0,334.1L337.0,334.3L338.0,334.4L339.0,334.6L340.0,334.7L341.0,334.9L342.0,335.0L343.0,335.1L344.0,335.2L345.0,335.3L346.0,335.4L347.0,335.5L348.0,335.6L349.0,335.7L350.0,335.8L351.0,335.9L352.0,335.9L353.0,336.0L354.0,336.1L355.0,336.1L356.0,336.2L357.0,336.3L358.0,336.3L359.0,336.4L360.0,336.4L361.0,336.4L362.0,336.5L363.0,336.5L364.0,336.5L365.0,336.6L366.0,336.6L367.0,336.6L368.0,336.6L369.0,336.6L370.0,336.6L371.0,336.6L372.0,336.5L373.0,336.5L374.0,336.4L375.0,336.4L376.0,336.3L377.0,336.2L378.0,336.1L379.0,336.0L380.0,335.9L381.0,335.8L382.0,335.7L383.0,335.6L384.0,335.5L385.0,335.4L386.0,335.2L387.0,335.1L388.0,335.0L389.0,334.9L390.0,334.8L391.0,334.6L392.0,334.6L393.0,334.5L394.0,334.5L395.0,334.7L396.0,334.9L397.0,335.0L398.0,335.1L399.0,335.2L400.0,335.2L401.0,335.3L402.0,335.4L403.0,335.4L404.0,335.4L405.0,335.5L406.0,335.5L407.0,335.5L408.0,335.6L409.0,335.6L410.0,335.6L411.0,335.7L412.0,335.7L413.0,335.8L414.0,335.8L415.0,335.8L416.0,335.9L417.0,335.9L418.0,336.0L419.0,336.0L420.0,336.1L421.0,336.1L422.0,336.1L423.0,336.2L424.0,336.2L425.0,336.3L426.0,336.3L427.0,336.3L428.0,336.4L429.0,336.4L430.0,336.5L431.0,336.5L432.0,336.6L433.0,336.6L434.0,336.6L435.0,336.7L436.0,336.7L437.0,336.8L438.0,336.8L439.0,336.9L440.0,336.9L441.0,337.0L442.0,337.0L443.0,337.1L444.0,337.1L445.0,337.2L446.0,337.2L447.0,337.3L448.0,337.3L449.0,337.4L450.0,337.4L451.0,337.5L452.0,337.6L453.0,337.6L454.0,337.7L455.0,337.7L456.0,337.8L457.0,337.9L458.0,337.9L459.0,338.0L460.0,338.1L461.0,338.2L462.0,338.2L463.0,338.3L464.0,338.4L465.0,338.5L466.0,338.6L467.0,338.7L468.0,338.8L469.0,338.8L470.0,338.9L471.0,339.0L472.0,339.1L473.0,339.2L474.0,339.3L475.0,339.4L476.0,339.5L477.0,339.5L478.0,339.6L479.0,339.7L480.0,339.8L481.0,339.9L482.0,339.9L483.0,340.0L484.0,340.1L485.0,340.1L486.0,340.2L487.0,340.2L488.0,340.3L489.0,340.3L490.0,340.4L491.0,340.5L492.0,340.6L493.0,340.7L494.0,340.8L495.0,340.8L496.0,340.9L497.0,341.0L498.0,341.1L499.0,341.2L500.0,341.3L501.0,341.5L502.0,341.6L503.0,341.7L504.0,341.8L505.0,341.9L506.0,342.0L507.0,342.1L508.0,342.2L509.0,342.3L510.0,342.4L511.0,342.5L512.0,342.6L513.0,342.7L514.0,342.8L515.0,342.8L516.0,342.9L517.0,343.0L518.0,343.0L519.0,343.1L520.0,343.2L521.0,343.2L522.0,343.3L523.0,343.4L524.0,343.5L525.0,343.7L526.0,344.9L527.0,347.1L528.0,349.3L529.0,351.3L530.0,353.1L531.0,354.8L532.0,356.4L533.0,357.8L534.0,359.1L535.0,360.3L536.0,361.4L537.0,362.4L538.0,363.4L539.0,364.2L540.0,365.0L541.0,365.7L542.0,366.4L543.0,367.0L544.0,367.6L545.0,368.1L546.0,368.7L547.0,369.2L548.0,369.8L549.0,370.3L550.0,370.8L551.0,371.2L552.0,371.5L553.0,371.9L554.0,372.6L555.0,373.8L556.0,375.3L557.0,376.7L558.0,377.6L559.0,378.2L560.0,378.7L561.0,379.0L562.0,379.2L563.0,379.4L564.0,379.6L565.0,379.8L566.0,380.0L567.0,380.2L568.0,380.4L569.0,380.5L570.0,380.6L571.0,380.7L572.0,380.8L573.0,380.8L574.0,380.9L575.0,381.0L576.0,381.0L577.0,381.0L578.0,381.0L579.0,381.1L580.0,381.1L581.0,381.1L582.0,381.1L583.0,381.1L584.0,381.2L585.0,381.2L586.0,381.2L587.0,381.2L588.0,381.2L589.0,381.2L590.0,381.3L591.0,381.3L592.0,381.3L593.0,381.3L594.0,381.3L595.0,381.3L596.0,381.4L597.0,381.4L598.0,381.4L599.0,381.4L600.0,381.4L601.0,381.4L602.0,381.4L603.0,381.5L604.0,381.5L605.0,381.5L606.0,381.5L607.0,381.5L608.0,381.5L609.0,381.5L610.0,381.5L611.0,381.5L612.0,381.6L613.0,381.6L614.0,381.6L615.0,381.6L616.0,381.6L617.0,381.6L618.0,381.6L619.0,381.6L620.0,381.6L621.0,381.6L622.0,381.6L623.0,381.6L624.0,381.6L625.0,381.6L626.0,381.6L627.0,381.6L628.0,381.6L629.0,381.6L630.0,381.6L631.0,381.6L632.0,381.6L633.0,381.6L634.0,381.6L635.0,381.6L636.0,381.6L637.0,381.6L638.0,381.7L639.0,381.7L640.0,381.7L641.0,381.7L642.0,381.7L643.0,381.7L644.0,381.7L645.0,381.7L646.0,381.7L647.0,381.7L648.0,381.7L649.0,381.7L650.0,381.7L651.0,381.7L652.0,381.7L653.0,381.7L654.0,381.7L655.0,381.7L656.0,381.7L657.0,381.7L658.0,381.7L659.0,381.7L660.0,381.7L661.0,381.7L662.0,381.7L663.0,381.7L664.0,381.7L665.0,381.7L666.0,381.7L667.0,381.7L668.0,381.7L669.0,381.7L670.0,381.7L671.0,381.7L672.0,381.7L673.0,381.7L674.0,381.7L675.0,381.7L676.0,381.7L677.0,381.7L678.0,381.7L679.0,381.7L680.0,381.7L681.0,381.7L682.0,381.7L683.0,381.7L684.0,381.6L685.0,381.6L686.0,381.6L687.0,381.6L688.0,381.6L689.0,381.6L690.0,381.6L691.0,381.6L692.0,381.6L693.0,381.6" stroke="#ff0000" stroke-width="2.75"/>
</g>
<circle cx="631" cy="123.3" r="26.8" fill="#0000ff" stroke="#a0a0a0" stroke-width="4.8"/>
<circle cx="631" cy="274" r="26.8" fill="#008000" stroke="#000" stroke-width="4.8"/>
<g class="tk" text-anchor="end">
<text x="92.8" y="34.5" textLength="11.8" lengthAdjust="spacingAndGlyphs">1</text>
<text x="96.1" y="106" textLength="60.2" lengthAdjust="spacingAndGlyphs">0.80</text>
<text x="96.1" y="177.8" textLength="60.2" lengthAdjust="spacingAndGlyphs">0.60</text>
<text x="96.1" y="249.6" textLength="60.2" lengthAdjust="spacingAndGlyphs">0.40</text>
<text x="96.1" y="321.4" textLength="60.2" lengthAdjust="spacingAndGlyphs">0.20</text>
<text x="95.2" y="393.3" textLength="15.9" lengthAdjust="spacingAndGlyphs">0</text>
</g>
<g class="tk" text-anchor="middle">
<text x="197.0" y="439.9">2</text>
<text x="320.3" y="439.9" textLength="17.2" lengthAdjust="spacingAndGlyphs">4</text>
<text x="444.3" y="439.9">6</text>
<text x="568.1" y="439.9">8</text>
<text x="684.2" y="439.9" textLength="11.4" lengthAdjust="spacingAndGlyphs">1</text>
<text x="702.6" y="439.9">0</text>
</g>
<rect x="319.9" y="438.2" width="6.2" height="2.1" fill="#000"/>
<rect x="69.6" y="248.2" width="7" height="2" fill="#000"/>
<g class="xl">
<text x="232.2" y="473.4" textLength="161.6" lengthAdjust="spacingAndGlyphs">wavelength</text>
<path d="M410.4,450.2H418V452.3H413.5V477.6H418V479.7H410.4Z" fill="#000"/>
<text x="434.6" y="473.4" textLength="104" lengthAdjust="spacingAndGlyphs">micron</text>
<path d="M563.2,450.2H555.6V452.3H560.1V477.6H555.6V479.7H563.2Z" fill="#000"/>
</g>
<g class="lg" fill="#000">
<text x="519.2" y="59.1" textLength="12" lengthAdjust="spacingAndGlyphs">a</text>
<text x="545" y="59.1" textLength="16.6" lengthAdjust="spacingAndGlyphs">=</text>
<text x="573.6" y="59.1" textLength="39.6" lengthAdjust="spacingAndGlyphs">140</text>
<text x="626" y="59.1" textLength="36" lengthAdjust="spacingAndGlyphs">nm</text>
</g>
<text class="lg2" x="414.6" y="185.2" fill="#0000ff" stroke="#0000ff" stroke-width="0.15" textLength="202" lengthAdjust="spacingAndGlyphs">a−Sil(px.)/a−C:H</text>
<text class="lg2" x="414.6" y="221.3" fill="#008000" stroke="#008000" stroke-width="0.15" textLength="177.8" lengthAdjust="spacingAndGlyphs">a−Sil(px.)/a−C</text>
<g>
<g>
<ellipse cx="3.7" cy="250.2" rx="9.5" ry="8" fill="#000"/>
<ellipse cx="3.7" cy="250.2" rx="6.9" ry="5.1" fill="#fff"/>
<path d="M7.2,249.3C6.8,252.6 10.8,253.8 12.4,250.6C13.4,248.4 14.8,246.8 16.4,246.2C18.2,245.6 18.2,243.2 15,242.8" fill="none" stroke="#000" stroke-width="2.5" stroke-linecap="round"/>
</g>
<g transform="translate(0,-59.4)">
<ellipse cx="3.7" cy="250.2" rx="9.5" ry="8" fill="#000"/>
<ellipse cx="3.7" cy="250.2" rx="6.9" ry="5.1" fill="#fff"/>
<path d="M7.2,249.3C6.8,252.6 10.8,253.8 12.4,250.6C13.4,248.4 14.8,246.8 16.4,246.2C18.2,245.6 18.2,243.2 15,242.8" fill="none" stroke="#000" stroke-width="2.5" stroke-linecap="round"/>
</g>
<path d="M-1,205.4L18.6,216.5" stroke="#000" stroke-width="2.7" fill="none"/>
<g transform="translate(17.1,240.6) rotate(-90)" font-weight="bold" font-size="15" stroke="#000" stroke-width="1.0">
<text x="0" y="0" style="font-family:'Liberation Sans',sans-serif" textLength="21.2" lengthAdjust="spacingAndGlyphs">sca</text>
<text x="59.4" y="0" style="font-family:'Liberation Sans',sans-serif" textLength="20.8" lengthAdjust="spacingAndGlyphs">ext</text>
</g>
</g>
</svg>
</body></html>
